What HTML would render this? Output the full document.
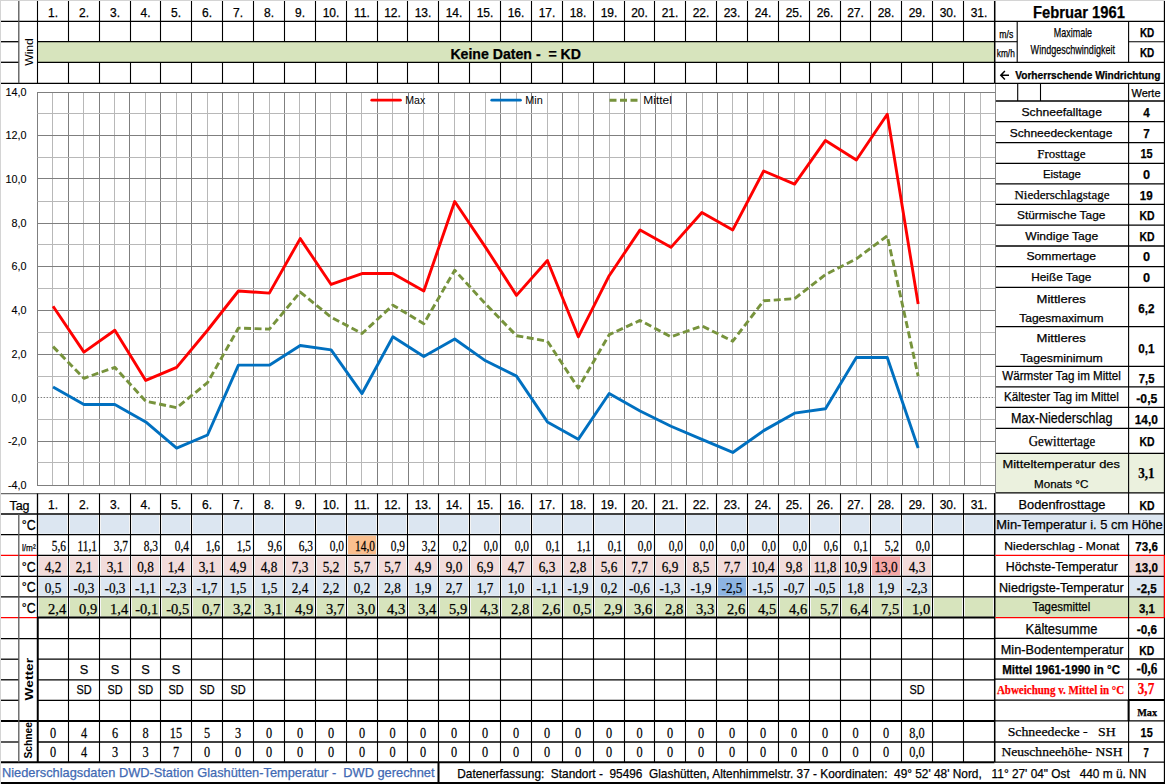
<!DOCTYPE html>
<html><head><meta charset="utf-8"><title>Februar 1961</title>
<style>
html,body{margin:0;padding:0;background:#fff;}
body{width:1165px;height:784px;overflow:hidden;font-family:"Liberation Sans", sans-serif;}
svg{display:block;}
</style></head><body>
<svg width="1165" height="784" viewBox="0 0 1165 784">
<rect x="0" y="0" width="1165" height="784" fill="#fff"/>
<rect x="0" y="0" width="1165" height="1" fill="#d4d4d4"/>
<rect x="0" y="0" width="1" height="784" fill="#d4d4d4"/>
<rect x="37.5" y="42" width="957.0" height="20" fill="#d7e4bd"/>
<rect x="39.0" y="515.0" width="28.0" height="18.700000000000045" fill="#dce6f1"/>
<rect x="39.0" y="597.8" width="28.0" height="18.800000000000068" fill="#d7e4bd"/>
<rect x="39.0" y="556.3" width="28.0" height="19.0" fill="#f2dcdb"/>
<rect x="39.0" y="577.3" width="28.0" height="18.5" fill="#dce6f1"/>
<rect x="70.0" y="515.0" width="28.0" height="18.700000000000045" fill="#dce6f1"/>
<rect x="70.0" y="597.8" width="28.0" height="18.800000000000068" fill="#d7e4bd"/>
<rect x="70.0" y="556.3" width="28.0" height="19.0" fill="#f2dcdb"/>
<rect x="70.0" y="577.3" width="28.0" height="18.5" fill="#dce6f1"/>
<rect x="101.0" y="515.0" width="28.0" height="18.700000000000045" fill="#dce6f1"/>
<rect x="101.0" y="597.8" width="28.0" height="18.800000000000068" fill="#d7e4bd"/>
<rect x="101.0" y="556.3" width="28.0" height="19.0" fill="#f2dcdb"/>
<rect x="101.0" y="577.3" width="28.0" height="18.5" fill="#dce6f1"/>
<rect x="132.0" y="515.0" width="27.0" height="18.700000000000045" fill="#dce6f1"/>
<rect x="132.0" y="597.8" width="27.0" height="18.800000000000068" fill="#d7e4bd"/>
<rect x="132.0" y="556.3" width="27.0" height="19.0" fill="#f2dcdb"/>
<rect x="132.0" y="577.3" width="27.0" height="18.5" fill="#dce6f1"/>
<rect x="162.0" y="515.0" width="28.0" height="18.700000000000045" fill="#dce6f1"/>
<rect x="162.0" y="597.8" width="28.0" height="18.800000000000068" fill="#d7e4bd"/>
<rect x="162.0" y="556.3" width="28.0" height="19.0" fill="#f2dcdb"/>
<rect x="162.0" y="577.3" width="28.0" height="18.5" fill="#dce6f1"/>
<rect x="193.0" y="515.0" width="28.0" height="18.700000000000045" fill="#dce6f1"/>
<rect x="193.0" y="597.8" width="28.0" height="18.800000000000068" fill="#d7e4bd"/>
<rect x="193.0" y="556.3" width="28.0" height="19.0" fill="#f2dcdb"/>
<rect x="193.0" y="577.3" width="28.0" height="18.5" fill="#dce6f1"/>
<rect x="224.0" y="515.0" width="28.0" height="18.700000000000045" fill="#dce6f1"/>
<rect x="224.0" y="597.8" width="28.0" height="18.800000000000068" fill="#d7e4bd"/>
<rect x="224.0" y="556.3" width="28.0" height="19.0" fill="#f2dcdb"/>
<rect x="224.0" y="577.3" width="28.0" height="18.5" fill="#dce6f1"/>
<rect x="255.0" y="515.0" width="28.0" height="18.700000000000045" fill="#dce6f1"/>
<rect x="255.0" y="597.8" width="28.0" height="18.800000000000068" fill="#d7e4bd"/>
<rect x="255.0" y="556.3" width="28.0" height="19.0" fill="#f2dcdb"/>
<rect x="255.0" y="577.3" width="28.0" height="18.5" fill="#dce6f1"/>
<rect x="286.0" y="515.0" width="28.0" height="18.700000000000045" fill="#dce6f1"/>
<rect x="286.0" y="597.8" width="28.0" height="18.800000000000068" fill="#d7e4bd"/>
<rect x="286.0" y="556.3" width="28.0" height="19.0" fill="#f2dcdb"/>
<rect x="286.0" y="577.3" width="28.0" height="18.5" fill="#dce6f1"/>
<rect x="317.0" y="515.0" width="28.0" height="18.700000000000045" fill="#dce6f1"/>
<rect x="317.0" y="597.8" width="28.0" height="18.800000000000068" fill="#d7e4bd"/>
<rect x="317.0" y="556.3" width="28.0" height="19.0" fill="#f2dcdb"/>
<rect x="317.0" y="577.3" width="28.0" height="18.5" fill="#dce6f1"/>
<rect x="348.0" y="515.0" width="28.0" height="18.700000000000045" fill="#dce6f1"/>
<rect x="348.0" y="597.8" width="28.0" height="18.800000000000068" fill="#d7e4bd"/>
<rect x="348.0" y="556.3" width="28.0" height="19.0" fill="#f2dcdb"/>
<rect x="348.0" y="577.3" width="28.0" height="18.5" fill="#dce6f1"/>
<rect x="348.0" y="535.7" width="28.0" height="18.59999999999991" fill="#fabf8f"/>
<rect x="379.0" y="515.0" width="27.0" height="18.700000000000045" fill="#dce6f1"/>
<rect x="379.0" y="597.8" width="27.0" height="18.800000000000068" fill="#d7e4bd"/>
<rect x="379.0" y="556.3" width="27.0" height="19.0" fill="#f2dcdb"/>
<rect x="379.0" y="577.3" width="27.0" height="18.5" fill="#dce6f1"/>
<rect x="409.0" y="515.0" width="28.0" height="18.700000000000045" fill="#dce6f1"/>
<rect x="409.0" y="597.8" width="28.0" height="18.800000000000068" fill="#d7e4bd"/>
<rect x="409.0" y="556.3" width="28.0" height="19.0" fill="#f2dcdb"/>
<rect x="409.0" y="577.3" width="28.0" height="18.5" fill="#dce6f1"/>
<rect x="440.0" y="515.0" width="28.0" height="18.700000000000045" fill="#dce6f1"/>
<rect x="440.0" y="597.8" width="28.0" height="18.800000000000068" fill="#d7e4bd"/>
<rect x="440.0" y="556.3" width="28.0" height="19.0" fill="#f2dcdb"/>
<rect x="440.0" y="577.3" width="28.0" height="18.5" fill="#dce6f1"/>
<rect x="471.0" y="515.0" width="28.0" height="18.700000000000045" fill="#dce6f1"/>
<rect x="471.0" y="597.8" width="28.0" height="18.800000000000068" fill="#d7e4bd"/>
<rect x="471.0" y="556.3" width="28.0" height="19.0" fill="#f2dcdb"/>
<rect x="471.0" y="577.3" width="28.0" height="18.5" fill="#dce6f1"/>
<rect x="502.0" y="515.0" width="28.0" height="18.700000000000045" fill="#dce6f1"/>
<rect x="502.0" y="597.8" width="28.0" height="18.800000000000068" fill="#d7e4bd"/>
<rect x="502.0" y="556.3" width="28.0" height="19.0" fill="#f2dcdb"/>
<rect x="502.0" y="577.3" width="28.0" height="18.5" fill="#dce6f1"/>
<rect x="533.0" y="515.0" width="28.0" height="18.700000000000045" fill="#dce6f1"/>
<rect x="533.0" y="597.8" width="28.0" height="18.800000000000068" fill="#d7e4bd"/>
<rect x="533.0" y="556.3" width="28.0" height="19.0" fill="#f2dcdb"/>
<rect x="533.0" y="577.3" width="28.0" height="18.5" fill="#dce6f1"/>
<rect x="564.0" y="515.0" width="28.0" height="18.700000000000045" fill="#dce6f1"/>
<rect x="564.0" y="597.8" width="28.0" height="18.800000000000068" fill="#d7e4bd"/>
<rect x="564.0" y="556.3" width="28.0" height="19.0" fill="#f2dcdb"/>
<rect x="564.0" y="577.3" width="28.0" height="18.5" fill="#dce6f1"/>
<rect x="595.0" y="515.0" width="28.0" height="18.700000000000045" fill="#dce6f1"/>
<rect x="595.0" y="597.8" width="28.0" height="18.800000000000068" fill="#d7e4bd"/>
<rect x="595.0" y="556.3" width="28.0" height="19.0" fill="#f2dcdb"/>
<rect x="595.0" y="577.3" width="28.0" height="18.5" fill="#dce6f1"/>
<rect x="626.0" y="515.0" width="27.0" height="18.700000000000045" fill="#dce6f1"/>
<rect x="626.0" y="597.8" width="27.0" height="18.800000000000068" fill="#d7e4bd"/>
<rect x="626.0" y="556.3" width="27.0" height="19.0" fill="#f2dcdb"/>
<rect x="626.0" y="577.3" width="27.0" height="18.5" fill="#dce6f1"/>
<rect x="656.0" y="515.0" width="28.0" height="18.700000000000045" fill="#dce6f1"/>
<rect x="656.0" y="597.8" width="28.0" height="18.800000000000068" fill="#d7e4bd"/>
<rect x="656.0" y="556.3" width="28.0" height="19.0" fill="#f2dcdb"/>
<rect x="656.0" y="577.3" width="28.0" height="18.5" fill="#dce6f1"/>
<rect x="687.0" y="515.0" width="28.0" height="18.700000000000045" fill="#dce6f1"/>
<rect x="687.0" y="597.8" width="28.0" height="18.800000000000068" fill="#d7e4bd"/>
<rect x="687.0" y="556.3" width="28.0" height="19.0" fill="#f2dcdb"/>
<rect x="687.0" y="577.3" width="28.0" height="18.5" fill="#dce6f1"/>
<rect x="718.0" y="515.0" width="28.0" height="18.700000000000045" fill="#dce6f1"/>
<rect x="718.0" y="597.8" width="28.0" height="18.800000000000068" fill="#d7e4bd"/>
<rect x="718.0" y="556.3" width="28.0" height="19.0" fill="#f2dcdb"/>
<rect x="718.0" y="577.3" width="28.0" height="18.5" fill="#8db4e2"/>
<rect x="749.0" y="515.0" width="28.0" height="18.700000000000045" fill="#dce6f1"/>
<rect x="749.0" y="597.8" width="28.0" height="18.800000000000068" fill="#d7e4bd"/>
<rect x="749.0" y="556.3" width="28.0" height="19.0" fill="#f2dcdb"/>
<rect x="749.0" y="577.3" width="28.0" height="18.5" fill="#dce6f1"/>
<rect x="780.0" y="515.0" width="28.0" height="18.700000000000045" fill="#dce6f1"/>
<rect x="780.0" y="597.8" width="28.0" height="18.800000000000068" fill="#d7e4bd"/>
<rect x="780.0" y="556.3" width="28.0" height="19.0" fill="#f2dcdb"/>
<rect x="780.0" y="577.3" width="28.0" height="18.5" fill="#dce6f1"/>
<rect x="811.0" y="515.0" width="28.0" height="18.700000000000045" fill="#dce6f1"/>
<rect x="811.0" y="597.8" width="28.0" height="18.800000000000068" fill="#d7e4bd"/>
<rect x="811.0" y="556.3" width="28.0" height="19.0" fill="#f2dcdb"/>
<rect x="811.0" y="577.3" width="28.0" height="18.5" fill="#dce6f1"/>
<rect x="842.0" y="515.0" width="27.0" height="18.700000000000045" fill="#dce6f1"/>
<rect x="842.0" y="597.8" width="27.0" height="18.800000000000068" fill="#d7e4bd"/>
<rect x="842.0" y="556.3" width="27.0" height="19.0" fill="#f2dcdb"/>
<rect x="842.0" y="577.3" width="27.0" height="18.5" fill="#dce6f1"/>
<rect x="872.0" y="515.0" width="28.0" height="18.700000000000045" fill="#dce6f1"/>
<rect x="872.0" y="597.8" width="28.0" height="18.800000000000068" fill="#d7e4bd"/>
<rect x="872.0" y="556.3" width="28.0" height="19.0" fill="#f4a7a7"/>
<rect x="872.0" y="577.3" width="28.0" height="18.5" fill="#dce6f1"/>
<rect x="903.0" y="515.0" width="28.0" height="18.700000000000045" fill="#dce6f1"/>
<rect x="903.0" y="597.8" width="28.0" height="18.800000000000068" fill="#d7e4bd"/>
<rect x="903.0" y="556.3" width="28.0" height="19.0" fill="#f2dcdb"/>
<rect x="903.0" y="577.3" width="28.0" height="18.5" fill="#dce6f1"/>
<rect x="934.0" y="515.0" width="28.0" height="18.700000000000045" fill="#dce6f1"/>
<rect x="934.0" y="597.8" width="28.0" height="18.800000000000068" fill="#d7e4bd"/>
<rect x="965.0" y="515.0" width="28.0" height="18.700000000000045" fill="#dce6f1"/>
<rect x="965.0" y="597.8" width="28.0" height="18.800000000000068" fill="#d7e4bd"/>
<rect x="995" y="454" width="133.5" height="38.89999999999998" fill="#ebf1de"/>
<rect x="1129" y="454" width="35" height="38.89999999999998" fill="#ebf1de"/>
<rect x="995" y="514.5" width="169" height="20.200000000000045" fill="#dce6f1"/>
<rect x="1129.5" y="556" width="34.0" height="20" fill="#f2dcdb"/>
<rect x="1129.5" y="577" width="34.0" height="19.3" fill="#dce6f1"/>
<rect x="995" y="597.5" width="169" height="19.6" fill="#d7e4bd"/>
<line x1="37.5" y1="92" x2="37.5" y2="486" stroke="#7f7f7f" stroke-width="1" />
<line x1="52.5" y1="92" x2="52.5" y2="486" stroke="#b8b8b8" stroke-width="1" />
<line x1="68.5" y1="92" x2="68.5" y2="486" stroke="#7f7f7f" stroke-width="1" />
<line x1="83.5" y1="92" x2="83.5" y2="486" stroke="#b8b8b8" stroke-width="1" />
<line x1="99.5" y1="92" x2="99.5" y2="486" stroke="#7f7f7f" stroke-width="1" />
<line x1="114.5" y1="92" x2="114.5" y2="486" stroke="#b8b8b8" stroke-width="1" />
<line x1="129.5" y1="92" x2="129.5" y2="486" stroke="#7f7f7f" stroke-width="1" />
<line x1="145.5" y1="92" x2="145.5" y2="486" stroke="#b8b8b8" stroke-width="1" />
<line x1="160.5" y1="92" x2="160.5" y2="486" stroke="#7f7f7f" stroke-width="1" />
<line x1="176.5" y1="92" x2="176.5" y2="486" stroke="#b8b8b8" stroke-width="1" />
<line x1="191.5" y1="92" x2="191.5" y2="486" stroke="#7f7f7f" stroke-width="1" />
<line x1="207.5" y1="92" x2="207.5" y2="486" stroke="#b8b8b8" stroke-width="1" />
<line x1="222.5" y1="92" x2="222.5" y2="486" stroke="#7f7f7f" stroke-width="1" />
<line x1="238.5" y1="92" x2="238.5" y2="486" stroke="#b8b8b8" stroke-width="1" />
<line x1="253.5" y1="92" x2="253.5" y2="486" stroke="#7f7f7f" stroke-width="1" />
<line x1="269.5" y1="92" x2="269.5" y2="486" stroke="#b8b8b8" stroke-width="1" />
<line x1="284.5" y1="92" x2="284.5" y2="486" stroke="#7f7f7f" stroke-width="1" />
<line x1="299.5" y1="92" x2="299.5" y2="486" stroke="#b8b8b8" stroke-width="1" />
<line x1="315.5" y1="92" x2="315.5" y2="486" stroke="#7f7f7f" stroke-width="1" />
<line x1="330.5" y1="92" x2="330.5" y2="486" stroke="#b8b8b8" stroke-width="1" />
<line x1="346.5" y1="92" x2="346.5" y2="486" stroke="#7f7f7f" stroke-width="1" />
<line x1="361.5" y1="92" x2="361.5" y2="486" stroke="#b8b8b8" stroke-width="1" />
<line x1="377.5" y1="92" x2="377.5" y2="486" stroke="#7f7f7f" stroke-width="1" />
<line x1="392.5" y1="92" x2="392.5" y2="486" stroke="#b8b8b8" stroke-width="1" />
<line x1="408.5" y1="92" x2="408.5" y2="486" stroke="#7f7f7f" stroke-width="1" />
<line x1="423.5" y1="92" x2="423.5" y2="486" stroke="#b8b8b8" stroke-width="1" />
<line x1="438.5" y1="92" x2="438.5" y2="486" stroke="#7f7f7f" stroke-width="1" />
<line x1="454.5" y1="92" x2="454.5" y2="486" stroke="#b8b8b8" stroke-width="1" />
<line x1="469.5" y1="92" x2="469.5" y2="486" stroke="#7f7f7f" stroke-width="1" />
<line x1="485.5" y1="92" x2="485.5" y2="486" stroke="#b8b8b8" stroke-width="1" />
<line x1="500.5" y1="92" x2="500.5" y2="486" stroke="#7f7f7f" stroke-width="1" />
<line x1="516.5" y1="92" x2="516.5" y2="486" stroke="#b8b8b8" stroke-width="1" />
<line x1="531.5" y1="92" x2="531.5" y2="486" stroke="#7f7f7f" stroke-width="1" />
<line x1="547.5" y1="92" x2="547.5" y2="486" stroke="#b8b8b8" stroke-width="1" />
<line x1="562.5" y1="92" x2="562.5" y2="486" stroke="#7f7f7f" stroke-width="1" />
<line x1="578.5" y1="92" x2="578.5" y2="486" stroke="#b8b8b8" stroke-width="1" />
<line x1="593.5" y1="92" x2="593.5" y2="486" stroke="#7f7f7f" stroke-width="1" />
<line x1="609.5" y1="92" x2="609.5" y2="486" stroke="#b8b8b8" stroke-width="1" />
<line x1="624.5" y1="92" x2="624.5" y2="486" stroke="#7f7f7f" stroke-width="1" />
<line x1="640.5" y1="92" x2="640.5" y2="486" stroke="#b8b8b8" stroke-width="1" />
<line x1="655.5" y1="92" x2="655.5" y2="486" stroke="#7f7f7f" stroke-width="1" />
<line x1="671.5" y1="92" x2="671.5" y2="486" stroke="#b8b8b8" stroke-width="1" />
<line x1="686.5" y1="92" x2="686.5" y2="486" stroke="#7f7f7f" stroke-width="1" />
<line x1="702.5" y1="92" x2="702.5" y2="486" stroke="#b8b8b8" stroke-width="1" />
<line x1="717.5" y1="92" x2="717.5" y2="486" stroke="#7f7f7f" stroke-width="1" />
<line x1="732.5" y1="92" x2="732.5" y2="486" stroke="#b8b8b8" stroke-width="1" />
<line x1="747.5" y1="92" x2="747.5" y2="486" stroke="#7f7f7f" stroke-width="1" />
<line x1="763.5" y1="92" x2="763.5" y2="486" stroke="#b8b8b8" stroke-width="1" />
<line x1="778.5" y1="92" x2="778.5" y2="486" stroke="#7f7f7f" stroke-width="1" />
<line x1="794.5" y1="92" x2="794.5" y2="486" stroke="#b8b8b8" stroke-width="1" />
<line x1="809.5" y1="92" x2="809.5" y2="486" stroke="#7f7f7f" stroke-width="1" />
<line x1="825.5" y1="92" x2="825.5" y2="486" stroke="#b8b8b8" stroke-width="1" />
<line x1="840.5" y1="92" x2="840.5" y2="486" stroke="#7f7f7f" stroke-width="1" />
<line x1="856.5" y1="92" x2="856.5" y2="486" stroke="#b8b8b8" stroke-width="1" />
<line x1="871.5" y1="92" x2="871.5" y2="486" stroke="#7f7f7f" stroke-width="1" />
<line x1="887.5" y1="92" x2="887.5" y2="486" stroke="#b8b8b8" stroke-width="1" />
<line x1="902.5" y1="92" x2="902.5" y2="486" stroke="#7f7f7f" stroke-width="1" />
<line x1="918.5" y1="92" x2="918.5" y2="486" stroke="#b8b8b8" stroke-width="1" />
<line x1="933.5" y1="92" x2="933.5" y2="486" stroke="#7f7f7f" stroke-width="1" />
<line x1="949.5" y1="92" x2="949.5" y2="486" stroke="#b8b8b8" stroke-width="1" />
<line x1="964.5" y1="92" x2="964.5" y2="486" stroke="#7f7f7f" stroke-width="1" />
<line x1="980.5" y1="92" x2="980.5" y2="486" stroke="#b8b8b8" stroke-width="1" />
<line x1="995.5" y1="92" x2="995.5" y2="486" stroke="#7f7f7f" stroke-width="1" />
<line x1="37.5" y1="485.5" x2="995.5" y2="485.5" stroke="#7f7f7f" stroke-width="1" />
<line x1="37.5" y1="462.5" x2="995.5" y2="462.5" stroke="#b8b8b8" stroke-width="1" />
<line x1="37.5" y1="441.5" x2="995.5" y2="441.5" stroke="#7f7f7f" stroke-width="1" />
<line x1="37.5" y1="419.5" x2="995.5" y2="419.5" stroke="#b8b8b8" stroke-width="1" />
<line x1="37.6" y1="397.5" x2="995.4" y2="397.5" stroke="#7f7f7f" stroke-width="1" stroke-dasharray="1.5,1.5"/>
<line x1="37.5" y1="376.5" x2="995.5" y2="376.5" stroke="#b8b8b8" stroke-width="1" />
<line x1="37.5" y1="354.5" x2="995.5" y2="354.5" stroke="#7f7f7f" stroke-width="1" />
<line x1="37.5" y1="332.5" x2="995.5" y2="332.5" stroke="#b8b8b8" stroke-width="1" />
<line x1="37.5" y1="310.5" x2="995.5" y2="310.5" stroke="#7f7f7f" stroke-width="1" />
<line x1="37.5" y1="288.5" x2="995.5" y2="288.5" stroke="#b8b8b8" stroke-width="1" />
<line x1="37.5" y1="266.5" x2="995.5" y2="266.5" stroke="#7f7f7f" stroke-width="1" />
<line x1="37.5" y1="244.5" x2="995.5" y2="244.5" stroke="#b8b8b8" stroke-width="1" />
<line x1="37.5" y1="223.5" x2="995.5" y2="223.5" stroke="#7f7f7f" stroke-width="1" />
<line x1="37.5" y1="201.5" x2="995.5" y2="201.5" stroke="#b8b8b8" stroke-width="1" />
<line x1="37.5" y1="178.5" x2="995.5" y2="178.5" stroke="#7f7f7f" stroke-width="1" />
<line x1="37.5" y1="157.5" x2="995.5" y2="157.5" stroke="#b8b8b8" stroke-width="1" />
<line x1="37.5" y1="135.5" x2="995.5" y2="135.5" stroke="#7f7f7f" stroke-width="1" />
<line x1="37.5" y1="113.5" x2="995.5" y2="113.5" stroke="#b8b8b8" stroke-width="1" />
<line x1="37.5" y1="92.5" x2="995.5" y2="92.5" stroke="#7f7f7f" stroke-width="1" />
<line x1="995.5" y1="84.2" x2="995.5" y2="493.5" stroke="#8a8a8a" stroke-width="1" />
<text xml:space="preserve" x="26.5" y="489.29999999999995" font-family='"Liberation Sans", sans-serif' font-size="10.8" text-anchor="end" fill="#000" stroke="#000" stroke-width="0.1" >-4,0</text>
<text xml:space="preserve" x="26.5" y="445.29999999999995" font-family='"Liberation Sans", sans-serif' font-size="10.8" text-anchor="end" fill="#000" stroke="#000" stroke-width="0.1" >-2,0</text>
<text xml:space="preserve" x="26.5" y="401.7" font-family='"Liberation Sans", sans-serif' font-size="10.8" text-anchor="end" fill="#000" stroke="#000" stroke-width="0.1" >0,0</text>
<text xml:space="preserve" x="26.5" y="358.4" font-family='"Liberation Sans", sans-serif' font-size="10.8" text-anchor="end" fill="#000" stroke="#000" stroke-width="0.1" >2,0</text>
<text xml:space="preserve" x="26.5" y="314.0" font-family='"Liberation Sans", sans-serif' font-size="10.8" text-anchor="end" fill="#000" stroke="#000" stroke-width="0.1" >4,0</text>
<text xml:space="preserve" x="26.5" y="270.2" font-family='"Liberation Sans", sans-serif' font-size="10.8" text-anchor="end" fill="#000" stroke="#000" stroke-width="0.1" >6,0</text>
<text xml:space="preserve" x="26.5" y="227.4" font-family='"Liberation Sans", sans-serif' font-size="10.8" text-anchor="end" fill="#000" stroke="#000" stroke-width="0.1" >8,0</text>
<text xml:space="preserve" x="26.5" y="182.9" font-family='"Liberation Sans", sans-serif' font-size="10.8" text-anchor="end" fill="#000" stroke="#000" stroke-width="0.1" >10,0</text>
<text xml:space="preserve" x="26.5" y="139.4" font-family='"Liberation Sans", sans-serif' font-size="10.8" text-anchor="end" fill="#000" stroke="#000" stroke-width="0.1" >12,0</text>
<text xml:space="preserve" x="26.5" y="96.2" font-family='"Liberation Sans", sans-serif' font-size="10.8" text-anchor="end" fill="#000" stroke="#000" stroke-width="0.1" >14,0</text>
<line x1="371.8" y1="100.2" x2="400.4" y2="100.2" stroke="#ff0000" stroke-width="2.8" stroke-linecap="round"/>
<text xml:space="preserve" x="405.3" y="104.3" font-family='"Liberation Sans", sans-serif' font-size="10" text-anchor="start" fill="#000" stroke="#000" stroke-width="0" textLength="20" lengthAdjust="spacingAndGlyphs" >Max</text>
<line x1="491.8" y1="100.2" x2="520.4" y2="100.2" stroke="#0070c0" stroke-width="2.8" stroke-linecap="round"/>
<text xml:space="preserve" x="525.3" y="104.3" font-family='"Liberation Sans", sans-serif' font-size="10" text-anchor="start" fill="#000" stroke="#000" stroke-width="0" textLength="17.5" lengthAdjust="spacingAndGlyphs" >Min</text>
<line x1="609.5" y1="100.2" x2="637.5" y2="100.2" stroke="#77933c" stroke-width="3" stroke-dasharray="7,3.5"/>
<text xml:space="preserve" x="643.3" y="104.3" font-family='"Liberation Sans", sans-serif' font-size="10" text-anchor="start" fill="#000" stroke="#000" stroke-width="0" textLength="28.5" lengthAdjust="spacingAndGlyphs" >Mittel</text>
<polyline points="53.05,346.62 83.95,378.26 114.84,367.35 145.74,401.17 176.64,407.72 207.53,382.63 238.43,328.08 269.33,329.17 300.22,292.07 331.12,317.17 362.02,333.53 392.91,305.16 423.81,323.71 454.71,270.25 485.60,304.07 516.50,335.71 547.40,341.17 578.29,388.08 609.19,334.62 640.09,320.44 670.98,336.80 701.88,325.89 732.78,341.17 763.67,300.80 794.57,298.62 825.47,274.62 856.36,258.80 887.26,235.89 918.16,376.08" fill="none" stroke="#77933c" stroke-width="2.9" stroke-linejoin="round" stroke-dasharray="7,3.5"/>
<polyline points="53.05,386.99 83.95,404.45 114.84,404.45 145.74,421.90 176.64,448.09 207.53,434.99 238.43,365.17 269.33,365.17 300.22,345.53 331.12,349.90 362.02,393.54 392.91,336.80 423.81,356.44 454.71,338.99 485.60,360.81 516.50,376.08 547.40,421.90 578.29,439.36 609.19,393.54 640.09,410.99 670.98,426.27 701.88,439.36 732.78,452.45 763.67,430.63 794.57,413.17 825.47,408.81 856.36,357.53 887.26,357.53 918.16,448.09" fill="none" stroke="#0070c0" stroke-width="2.9" stroke-linejoin="round" />
<polyline points="53.05,306.26 83.95,352.08 114.84,330.26 145.74,380.44 176.64,367.35 207.53,330.26 238.43,290.98 269.33,293.16 300.22,238.61 331.12,284.44 362.02,273.53 392.91,273.53 423.81,290.98 454.71,201.52 485.60,247.34 516.50,295.35 547.40,260.43 578.29,336.80 609.19,275.71 640.09,229.89 670.98,247.34 701.88,212.43 732.78,229.89 763.67,170.97 794.57,184.06 825.47,140.42 856.36,160.06 887.26,114.24 918.16,304.07" fill="none" stroke="#ff0000" stroke-width="2.9" stroke-linejoin="round" />
<line x1="1" y1="21.3" x2="994.5" y2="21.3" stroke="#000" stroke-width="1.3" />
<line x1="1" y1="41.7" x2="19" y2="41.7" stroke="#000" stroke-width="1.3" />
<line x1="37.5" y1="41.7" x2="994.5" y2="41.7" stroke="#000" stroke-width="1.3" />
<line x1="1" y1="62.3" x2="19" y2="62.3" stroke="#000" stroke-width="1.3" />
<line x1="37.5" y1="62.3" x2="994.5" y2="62.3" stroke="#000" stroke-width="1.3" />
<line x1="1" y1="83.3" x2="994.5" y2="83.3" stroke="#000" stroke-width="1.3" />
<line x1="18.8" y1="1" x2="18.8" y2="83.3" stroke="#555" stroke-width="1.3" />
<line x1="37.5" y1="1" x2="37.5" y2="42" stroke="#000" stroke-width="1.1" />
<line x1="37.5" y1="62" x2="37.5" y2="83.3" stroke="#000" stroke-width="1.1" />
<line x1="68.5" y1="1" x2="68.5" y2="42" stroke="#000" stroke-width="1.1" />
<line x1="68.5" y1="62" x2="68.5" y2="83.3" stroke="#000" stroke-width="1.1" />
<line x1="99.5" y1="1" x2="99.5" y2="42" stroke="#000" stroke-width="1.1" />
<line x1="99.5" y1="62" x2="99.5" y2="83.3" stroke="#000" stroke-width="1.1" />
<line x1="130.5" y1="1" x2="130.5" y2="42" stroke="#000" stroke-width="1.1" />
<line x1="130.5" y1="62" x2="130.5" y2="83.3" stroke="#000" stroke-width="1.1" />
<line x1="160.5" y1="1" x2="160.5" y2="42" stroke="#000" stroke-width="1.1" />
<line x1="160.5" y1="62" x2="160.5" y2="83.3" stroke="#000" stroke-width="1.1" />
<line x1="191.5" y1="1" x2="191.5" y2="42" stroke="#000" stroke-width="1.1" />
<line x1="191.5" y1="62" x2="191.5" y2="83.3" stroke="#000" stroke-width="1.1" />
<line x1="222.5" y1="1" x2="222.5" y2="42" stroke="#000" stroke-width="1.1" />
<line x1="222.5" y1="62" x2="222.5" y2="83.3" stroke="#000" stroke-width="1.1" />
<line x1="253.5" y1="1" x2="253.5" y2="42" stroke="#000" stroke-width="1.1" />
<line x1="253.5" y1="62" x2="253.5" y2="83.3" stroke="#000" stroke-width="1.1" />
<line x1="284.5" y1="1" x2="284.5" y2="42" stroke="#000" stroke-width="1.1" />
<line x1="284.5" y1="62" x2="284.5" y2="83.3" stroke="#000" stroke-width="1.1" />
<line x1="315.5" y1="1" x2="315.5" y2="42" stroke="#000" stroke-width="1.1" />
<line x1="315.5" y1="62" x2="315.5" y2="83.3" stroke="#000" stroke-width="1.1" />
<line x1="346.5" y1="1" x2="346.5" y2="42" stroke="#000" stroke-width="1.1" />
<line x1="346.5" y1="62" x2="346.5" y2="83.3" stroke="#000" stroke-width="1.1" />
<line x1="377.5" y1="1" x2="377.5" y2="42" stroke="#000" stroke-width="1.1" />
<line x1="377.5" y1="62" x2="377.5" y2="83.3" stroke="#000" stroke-width="1.1" />
<line x1="407.5" y1="1" x2="407.5" y2="42" stroke="#000" stroke-width="1.1" />
<line x1="407.5" y1="62" x2="407.5" y2="83.3" stroke="#000" stroke-width="1.1" />
<line x1="438.5" y1="1" x2="438.5" y2="42" stroke="#000" stroke-width="1.1" />
<line x1="438.5" y1="62" x2="438.5" y2="83.3" stroke="#000" stroke-width="1.1" />
<line x1="469.5" y1="1" x2="469.5" y2="42" stroke="#000" stroke-width="1.1" />
<line x1="469.5" y1="62" x2="469.5" y2="83.3" stroke="#000" stroke-width="1.1" />
<line x1="500.5" y1="1" x2="500.5" y2="42" stroke="#000" stroke-width="1.1" />
<line x1="500.5" y1="62" x2="500.5" y2="83.3" stroke="#000" stroke-width="1.1" />
<line x1="531.5" y1="1" x2="531.5" y2="42" stroke="#000" stroke-width="1.1" />
<line x1="531.5" y1="62" x2="531.5" y2="83.3" stroke="#000" stroke-width="1.1" />
<line x1="562.5" y1="1" x2="562.5" y2="42" stroke="#000" stroke-width="1.1" />
<line x1="562.5" y1="62" x2="562.5" y2="83.3" stroke="#000" stroke-width="1.1" />
<line x1="593.5" y1="1" x2="593.5" y2="42" stroke="#000" stroke-width="1.1" />
<line x1="593.5" y1="62" x2="593.5" y2="83.3" stroke="#000" stroke-width="1.1" />
<line x1="624.5" y1="1" x2="624.5" y2="42" stroke="#000" stroke-width="1.1" />
<line x1="624.5" y1="62" x2="624.5" y2="83.3" stroke="#000" stroke-width="1.1" />
<line x1="654.5" y1="1" x2="654.5" y2="42" stroke="#000" stroke-width="1.1" />
<line x1="654.5" y1="62" x2="654.5" y2="83.3" stroke="#000" stroke-width="1.1" />
<line x1="685.5" y1="1" x2="685.5" y2="42" stroke="#000" stroke-width="1.1" />
<line x1="685.5" y1="62" x2="685.5" y2="83.3" stroke="#000" stroke-width="1.1" />
<line x1="716.5" y1="1" x2="716.5" y2="42" stroke="#000" stroke-width="1.1" />
<line x1="716.5" y1="62" x2="716.5" y2="83.3" stroke="#000" stroke-width="1.1" />
<line x1="747.5" y1="1" x2="747.5" y2="42" stroke="#000" stroke-width="1.1" />
<line x1="747.5" y1="62" x2="747.5" y2="83.3" stroke="#000" stroke-width="1.1" />
<line x1="778.5" y1="1" x2="778.5" y2="42" stroke="#000" stroke-width="1.1" />
<line x1="778.5" y1="62" x2="778.5" y2="83.3" stroke="#000" stroke-width="1.1" />
<line x1="809.5" y1="1" x2="809.5" y2="42" stroke="#000" stroke-width="1.1" />
<line x1="809.5" y1="62" x2="809.5" y2="83.3" stroke="#000" stroke-width="1.1" />
<line x1="840.5" y1="1" x2="840.5" y2="42" stroke="#000" stroke-width="1.1" />
<line x1="840.5" y1="62" x2="840.5" y2="83.3" stroke="#000" stroke-width="1.1" />
<line x1="870.5" y1="1" x2="870.5" y2="42" stroke="#000" stroke-width="1.1" />
<line x1="870.5" y1="62" x2="870.5" y2="83.3" stroke="#000" stroke-width="1.1" />
<line x1="901.5" y1="1" x2="901.5" y2="42" stroke="#000" stroke-width="1.1" />
<line x1="901.5" y1="62" x2="901.5" y2="83.3" stroke="#000" stroke-width="1.1" />
<line x1="932.5" y1="1" x2="932.5" y2="42" stroke="#000" stroke-width="1.1" />
<line x1="932.5" y1="62" x2="932.5" y2="83.3" stroke="#000" stroke-width="1.1" />
<line x1="963.5" y1="1" x2="963.5" y2="42" stroke="#000" stroke-width="1.1" />
<line x1="963.5" y1="62" x2="963.5" y2="83.3" stroke="#000" stroke-width="1.1" />
<line x1="994.5" y1="1" x2="994.5" y2="42" stroke="#000" stroke-width="1.1" />
<line x1="994.5" y1="62" x2="994.5" y2="83.3" stroke="#000" stroke-width="1.1" />
<line x1="37.5" y1="42" x2="37.5" y2="62" stroke="#000" stroke-width="1.1" />
<line x1="994.5" y1="42" x2="994.5" y2="62" stroke="#000" stroke-width="1.1" />
<line x1="1" y1="493.6" x2="994.5" y2="493.6" stroke="#6a6a6a" stroke-width="1.3" />
<line x1="1" y1="514.0" x2="994.5" y2="514.0" stroke="#000" stroke-width="1.3" />
<line x1="1" y1="534.7" x2="994.5" y2="534.7" stroke="#000" stroke-width="1.3" />
<line x1="1" y1="555.3" x2="37" y2="555.3" stroke="#ff0000" stroke-width="1.3" />
<line x1="37.5" y1="555.3" x2="994.5" y2="555.3" stroke="#000" stroke-width="1.3" />
<line x1="1" y1="576.3" x2="994.5" y2="576.3" stroke="#000" stroke-width="1.3" />
<line x1="1" y1="596.8" x2="994.5" y2="596.8" stroke="#000" stroke-width="1.3" />
<line x1="1" y1="617.6" x2="37" y2="617.6" stroke="#ff0000" stroke-width="1.3" />
<line x1="37.5" y1="617.6" x2="994.5" y2="617.6" stroke="#000" stroke-width="2" />
<line x1="1" y1="638.6" x2="994.5" y2="638.6" stroke="#000" stroke-width="1.3" />
<line x1="1" y1="659.2" x2="19" y2="659.2" stroke="#000" stroke-width="1.3" />
<line x1="37.5" y1="659.2" x2="994.5" y2="659.2" stroke="#000" stroke-width="1.3" />
<line x1="1" y1="679.8" x2="19" y2="679.8" stroke="#000" stroke-width="1.3" />
<line x1="37.5" y1="679.8" x2="994.5" y2="679.8" stroke="#000" stroke-width="1.3" />
<line x1="1" y1="700.3" x2="19" y2="700.3" stroke="#000" stroke-width="1.3" />
<line x1="37.5" y1="700.3" x2="994.5" y2="700.3" stroke="#000" stroke-width="1.3" />
<line x1="1" y1="721.0" x2="994.5" y2="721.0" stroke="#000" stroke-width="2" />
<line x1="1" y1="742.0" x2="19" y2="742.0" stroke="#000" stroke-width="1.3" />
<line x1="37.5" y1="742.0" x2="994.5" y2="742.0" stroke="#000" stroke-width="1.3" />
<line x1="1" y1="762.2" x2="994.5" y2="762.2" stroke="#000" stroke-width="2" />
<line x1="18.8" y1="514" x2="18.8" y2="762.2" stroke="#5a5a5a" stroke-width="1.3" />
<line x1="37.5" y1="493.6" x2="37.5" y2="762.2" stroke="#000" stroke-width="1.3" />
<line x1="68.5" y1="493.6" x2="68.5" y2="762.2" stroke="#000" stroke-width="1.1" />
<line x1="99.5" y1="493.6" x2="99.5" y2="762.2" stroke="#000" stroke-width="1.1" />
<line x1="130.5" y1="493.6" x2="130.5" y2="762.2" stroke="#000" stroke-width="1.1" />
<line x1="160.5" y1="493.6" x2="160.5" y2="762.2" stroke="#000" stroke-width="1.1" />
<line x1="191.5" y1="493.6" x2="191.5" y2="762.2" stroke="#000" stroke-width="1.1" />
<line x1="222.5" y1="493.6" x2="222.5" y2="762.2" stroke="#000" stroke-width="1.1" />
<line x1="253.5" y1="493.6" x2="253.5" y2="762.2" stroke="#000" stroke-width="1.1" />
<line x1="284.5" y1="493.6" x2="284.5" y2="762.2" stroke="#000" stroke-width="1.1" />
<line x1="315.5" y1="493.6" x2="315.5" y2="762.2" stroke="#000" stroke-width="1.1" />
<line x1="346.5" y1="493.6" x2="346.5" y2="762.2" stroke="#000" stroke-width="1.1" />
<line x1="377.5" y1="493.6" x2="377.5" y2="762.2" stroke="#000" stroke-width="1.1" />
<line x1="407.5" y1="493.6" x2="407.5" y2="762.2" stroke="#000" stroke-width="1.1" />
<line x1="438.5" y1="493.6" x2="438.5" y2="762.2" stroke="#000" stroke-width="1.1" />
<line x1="469.5" y1="493.6" x2="469.5" y2="762.2" stroke="#000" stroke-width="1.1" />
<line x1="500.5" y1="493.6" x2="500.5" y2="762.2" stroke="#000" stroke-width="1.1" />
<line x1="531.5" y1="493.6" x2="531.5" y2="762.2" stroke="#000" stroke-width="1.1" />
<line x1="562.5" y1="493.6" x2="562.5" y2="762.2" stroke="#000" stroke-width="1.1" />
<line x1="593.5" y1="493.6" x2="593.5" y2="762.2" stroke="#000" stroke-width="1.1" />
<line x1="624.5" y1="493.6" x2="624.5" y2="762.2" stroke="#000" stroke-width="1.1" />
<line x1="654.5" y1="493.6" x2="654.5" y2="762.2" stroke="#000" stroke-width="1.1" />
<line x1="685.5" y1="493.6" x2="685.5" y2="762.2" stroke="#000" stroke-width="1.1" />
<line x1="716.5" y1="493.6" x2="716.5" y2="762.2" stroke="#000" stroke-width="1.1" />
<line x1="747.5" y1="493.6" x2="747.5" y2="762.2" stroke="#000" stroke-width="1.1" />
<line x1="778.5" y1="493.6" x2="778.5" y2="762.2" stroke="#000" stroke-width="1.1" />
<line x1="809.5" y1="493.6" x2="809.5" y2="762.2" stroke="#000" stroke-width="1.1" />
<line x1="840.5" y1="493.6" x2="840.5" y2="762.2" stroke="#000" stroke-width="1.1" />
<line x1="870.5" y1="493.6" x2="870.5" y2="762.2" stroke="#000" stroke-width="1.1" />
<line x1="901.5" y1="493.6" x2="901.5" y2="762.2" stroke="#000" stroke-width="1.1" />
<line x1="932.5" y1="493.6" x2="932.5" y2="762.2" stroke="#000" stroke-width="1.1" />
<line x1="963.5" y1="493.6" x2="963.5" y2="762.2" stroke="#000" stroke-width="1.1" />
<line x1="994.5" y1="493.6" x2="994.5" y2="762.2" stroke="#000" stroke-width="1.1" />
<line x1="37.8" y1="617.6" x2="37.8" y2="762.2" stroke="#000" stroke-width="1.8" />
<rect x="1" y="782" width="1164" height="2" fill="#000"/>
<line x1="438.5" y1="762.2" x2="438.5" y2="783" stroke="#000" stroke-width="2" />
<line x1="994.8" y1="1" x2="994.8" y2="83.3" stroke="#000" stroke-width="1.3" />
<line x1="994.8" y1="493.0" x2="994.8" y2="762.2" stroke="#000" stroke-width="1.3" />
<line x1="1164.5" y1="1" x2="1164.5" y2="783" stroke="#000" stroke-width="1.3" />
<line x1="994.8" y1="21.3" x2="1164.5" y2="21.3" stroke="#000" stroke-width="1.3" />
<line x1="1017.2" y1="21.3" x2="1017.2" y2="62.3" stroke="#000" stroke-width="1.1" />
<line x1="1128.6" y1="21.3" x2="1128.6" y2="62.3" stroke="#000" stroke-width="1.1" />
<line x1="994.8" y1="41.7" x2="1017.2" y2="41.7" stroke="#000" stroke-width="1.1" />
<line x1="1128.6" y1="41.7" x2="1164.5" y2="41.7" stroke="#000" stroke-width="1.1" />
<line x1="994.8" y1="62.3" x2="1164.5" y2="62.3" stroke="#000" stroke-width="1.3" />
<line x1="994.8" y1="83.3" x2="1164.5" y2="83.3" stroke="#000" stroke-width="1.3" />
<line x1="1017.7" y1="83.3" x2="1017.7" y2="101" stroke="#000" stroke-width="1.1" />
<line x1="1040.5" y1="83.3" x2="1040.5" y2="101" stroke="#000" stroke-width="1.1" />
<line x1="995.9" y1="101.0" x2="1164.5" y2="101.0" stroke="#000" stroke-width="1.3" />
<line x1="995.9" y1="121.6" x2="1164.5" y2="121.6" stroke="#000" stroke-width="1.3" />
<line x1="995.9" y1="142.6" x2="1164.5" y2="142.6" stroke="#000" stroke-width="1.3" />
<line x1="995.9" y1="163.4" x2="1164.5" y2="163.4" stroke="#000" stroke-width="1.3" />
<line x1="995.9" y1="183.8" x2="1164.5" y2="183.8" stroke="#000" stroke-width="1.3" />
<line x1="995.9" y1="204.4" x2="1164.5" y2="204.4" stroke="#000" stroke-width="1.3" />
<line x1="995.9" y1="225.2" x2="1164.5" y2="225.2" stroke="#000" stroke-width="1.3" />
<line x1="995.9" y1="246.0" x2="1164.5" y2="246.0" stroke="#000" stroke-width="1.3" />
<line x1="995.9" y1="266.7" x2="1164.5" y2="266.7" stroke="#000" stroke-width="1.3" />
<line x1="995.9" y1="287.3" x2="1164.5" y2="287.3" stroke="#000" stroke-width="1.3" />
<line x1="995.9" y1="326.7" x2="1164.5" y2="326.7" stroke="#000" stroke-width="1.3" />
<line x1="995.9" y1="366.4" x2="1164.5" y2="366.4" stroke="#000" stroke-width="1.3" />
<line x1="995.9" y1="386.8" x2="1164.5" y2="386.8" stroke="#000" stroke-width="1.3" />
<line x1="995.9" y1="407.4" x2="1164.5" y2="407.4" stroke="#000" stroke-width="1.3" />
<line x1="995.9" y1="428.3" x2="1164.5" y2="428.3" stroke="#000" stroke-width="1.3" />
<line x1="995.9" y1="453.3" x2="1164.5" y2="453.3" stroke="#000" stroke-width="1.3" />
<line x1="995.9" y1="492.9" x2="1164.5" y2="492.9" stroke="#000" stroke-width="1.3" />
<line x1="994.8" y1="513.9" x2="1164.5" y2="513.9" stroke="#000" stroke-width="1.3" />
<line x1="994.8" y1="534.7" x2="1164.5" y2="534.7" stroke="#000" stroke-width="1.3" />
<line x1="995.4" y1="555.3" x2="1164.5" y2="555.3" stroke="#ff0000" stroke-width="1.3" />
<line x1="994.8" y1="576.3" x2="1164.5" y2="576.3" stroke="#000" stroke-width="1.3" />
<line x1="994.8" y1="596.8" x2="1164.5" y2="596.8" stroke="#000" stroke-width="1.3" />
<line x1="995.4" y1="617.6" x2="1164.5" y2="617.6" stroke="#ff0000" stroke-width="1.3" />
<line x1="994.8" y1="638.4" x2="1164.5" y2="638.4" stroke="#000" stroke-width="1.3" />
<line x1="994.8" y1="659.0" x2="1164.5" y2="659.0" stroke="#000" stroke-width="1.3" />
<line x1="994.8" y1="679.2" x2="1164.5" y2="679.2" stroke="#000" stroke-width="1.3" />
<line x1="994.8" y1="700.1" x2="1164.5" y2="700.1" stroke="#000" stroke-width="1.3" />
<line x1="994.8" y1="720.8" x2="1164.5" y2="720.8" stroke="#000" stroke-width="1.3" />
<line x1="994.8" y1="742.0" x2="1164.5" y2="742.0" stroke="#000" stroke-width="1.3" />
<line x1="994.8" y1="762.2" x2="1164.5" y2="762.2" stroke="#000" stroke-width="1.3" />
<line x1="1128.6" y1="83.3" x2="1128.6" y2="513.9" stroke="#000" stroke-width="1.1" />
<line x1="1128.6" y1="534.7" x2="1128.6" y2="762.2" stroke="#000" stroke-width="1.1" />
<line x1="1164.5" y1="555.3" x2="1164.5" y2="617.6" stroke="#ff0000" stroke-width="1.3" />
<line x1="1128.6" y1="700.1" x2="1128.6" y2="720.8" stroke="#000" stroke-width="2" />
<line x1="1128.6" y1="700.1" x2="1164.5" y2="700.1" stroke="#000" stroke-width="2" />
<text xml:space="preserve" x="53.0" y="16.6" font-family='"Liberation Sans", sans-serif' font-size="12" text-anchor="middle" fill="#000" stroke="#000" stroke-width="0.25" >1.</text>
<text xml:space="preserve" x="53.0" y="509.2" font-family='"Liberation Sans", sans-serif' font-size="12" text-anchor="middle" fill="#000" stroke="#000" stroke-width="0.25" >1.</text>
<text xml:space="preserve" x="84.0" y="16.6" font-family='"Liberation Sans", sans-serif' font-size="12" text-anchor="middle" fill="#000" stroke="#000" stroke-width="0.25" >2.</text>
<text xml:space="preserve" x="84.0" y="509.2" font-family='"Liberation Sans", sans-serif' font-size="12" text-anchor="middle" fill="#000" stroke="#000" stroke-width="0.25" >2.</text>
<text xml:space="preserve" x="115.0" y="16.6" font-family='"Liberation Sans", sans-serif' font-size="12" text-anchor="middle" fill="#000" stroke="#000" stroke-width="0.25" >3.</text>
<text xml:space="preserve" x="115.0" y="509.2" font-family='"Liberation Sans", sans-serif' font-size="12" text-anchor="middle" fill="#000" stroke="#000" stroke-width="0.25" >3.</text>
<text xml:space="preserve" x="145.5" y="16.6" font-family='"Liberation Sans", sans-serif' font-size="12" text-anchor="middle" fill="#000" stroke="#000" stroke-width="0.25" >4.</text>
<text xml:space="preserve" x="145.5" y="509.2" font-family='"Liberation Sans", sans-serif' font-size="12" text-anchor="middle" fill="#000" stroke="#000" stroke-width="0.25" >4.</text>
<text xml:space="preserve" x="176.0" y="16.6" font-family='"Liberation Sans", sans-serif' font-size="12" text-anchor="middle" fill="#000" stroke="#000" stroke-width="0.25" >5.</text>
<text xml:space="preserve" x="176.0" y="509.2" font-family='"Liberation Sans", sans-serif' font-size="12" text-anchor="middle" fill="#000" stroke="#000" stroke-width="0.25" >5.</text>
<text xml:space="preserve" x="207.0" y="16.6" font-family='"Liberation Sans", sans-serif' font-size="12" text-anchor="middle" fill="#000" stroke="#000" stroke-width="0.25" >6.</text>
<text xml:space="preserve" x="207.0" y="509.2" font-family='"Liberation Sans", sans-serif' font-size="12" text-anchor="middle" fill="#000" stroke="#000" stroke-width="0.25" >6.</text>
<text xml:space="preserve" x="238.0" y="16.6" font-family='"Liberation Sans", sans-serif' font-size="12" text-anchor="middle" fill="#000" stroke="#000" stroke-width="0.25" >7.</text>
<text xml:space="preserve" x="238.0" y="509.2" font-family='"Liberation Sans", sans-serif' font-size="12" text-anchor="middle" fill="#000" stroke="#000" stroke-width="0.25" >7.</text>
<text xml:space="preserve" x="269.0" y="16.6" font-family='"Liberation Sans", sans-serif' font-size="12" text-anchor="middle" fill="#000" stroke="#000" stroke-width="0.25" >8.</text>
<text xml:space="preserve" x="269.0" y="509.2" font-family='"Liberation Sans", sans-serif' font-size="12" text-anchor="middle" fill="#000" stroke="#000" stroke-width="0.25" >8.</text>
<text xml:space="preserve" x="300.0" y="16.6" font-family='"Liberation Sans", sans-serif' font-size="12" text-anchor="middle" fill="#000" stroke="#000" stroke-width="0.25" >9.</text>
<text xml:space="preserve" x="300.0" y="509.2" font-family='"Liberation Sans", sans-serif' font-size="12" text-anchor="middle" fill="#000" stroke="#000" stroke-width="0.25" >9.</text>
<text xml:space="preserve" x="331.0" y="16.6" font-family='"Liberation Sans", sans-serif' font-size="12" text-anchor="middle" fill="#000" stroke="#000" stroke-width="0.25" >10.</text>
<text xml:space="preserve" x="331.0" y="509.2" font-family='"Liberation Sans", sans-serif' font-size="12" text-anchor="middle" fill="#000" stroke="#000" stroke-width="0.25" >10.</text>
<text xml:space="preserve" x="362.0" y="16.6" font-family='"Liberation Sans", sans-serif' font-size="12" text-anchor="middle" fill="#000" stroke="#000" stroke-width="0.25" >11.</text>
<text xml:space="preserve" x="362.0" y="509.2" font-family='"Liberation Sans", sans-serif' font-size="12" text-anchor="middle" fill="#000" stroke="#000" stroke-width="0.25" >11.</text>
<text xml:space="preserve" x="392.5" y="16.6" font-family='"Liberation Sans", sans-serif' font-size="12" text-anchor="middle" fill="#000" stroke="#000" stroke-width="0.25" >12.</text>
<text xml:space="preserve" x="392.5" y="509.2" font-family='"Liberation Sans", sans-serif' font-size="12" text-anchor="middle" fill="#000" stroke="#000" stroke-width="0.25" >12.</text>
<text xml:space="preserve" x="423.0" y="16.6" font-family='"Liberation Sans", sans-serif' font-size="12" text-anchor="middle" fill="#000" stroke="#000" stroke-width="0.25" >13.</text>
<text xml:space="preserve" x="423.0" y="509.2" font-family='"Liberation Sans", sans-serif' font-size="12" text-anchor="middle" fill="#000" stroke="#000" stroke-width="0.25" >13.</text>
<text xml:space="preserve" x="454.0" y="16.6" font-family='"Liberation Sans", sans-serif' font-size="12" text-anchor="middle" fill="#000" stroke="#000" stroke-width="0.25" >14.</text>
<text xml:space="preserve" x="454.0" y="509.2" font-family='"Liberation Sans", sans-serif' font-size="12" text-anchor="middle" fill="#000" stroke="#000" stroke-width="0.25" >14.</text>
<text xml:space="preserve" x="485.0" y="16.6" font-family='"Liberation Sans", sans-serif' font-size="12" text-anchor="middle" fill="#000" stroke="#000" stroke-width="0.25" >15.</text>
<text xml:space="preserve" x="485.0" y="509.2" font-family='"Liberation Sans", sans-serif' font-size="12" text-anchor="middle" fill="#000" stroke="#000" stroke-width="0.25" >15.</text>
<text xml:space="preserve" x="516.0" y="16.6" font-family='"Liberation Sans", sans-serif' font-size="12" text-anchor="middle" fill="#000" stroke="#000" stroke-width="0.25" >16.</text>
<text xml:space="preserve" x="516.0" y="509.2" font-family='"Liberation Sans", sans-serif' font-size="12" text-anchor="middle" fill="#000" stroke="#000" stroke-width="0.25" >16.</text>
<text xml:space="preserve" x="547.0" y="16.6" font-family='"Liberation Sans", sans-serif' font-size="12" text-anchor="middle" fill="#000" stroke="#000" stroke-width="0.25" >17.</text>
<text xml:space="preserve" x="547.0" y="509.2" font-family='"Liberation Sans", sans-serif' font-size="12" text-anchor="middle" fill="#000" stroke="#000" stroke-width="0.25" >17.</text>
<text xml:space="preserve" x="578.0" y="16.6" font-family='"Liberation Sans", sans-serif' font-size="12" text-anchor="middle" fill="#000" stroke="#000" stroke-width="0.25" >18.</text>
<text xml:space="preserve" x="578.0" y="509.2" font-family='"Liberation Sans", sans-serif' font-size="12" text-anchor="middle" fill="#000" stroke="#000" stroke-width="0.25" >18.</text>
<text xml:space="preserve" x="609.0" y="16.6" font-family='"Liberation Sans", sans-serif' font-size="12" text-anchor="middle" fill="#000" stroke="#000" stroke-width="0.25" >19.</text>
<text xml:space="preserve" x="609.0" y="509.2" font-family='"Liberation Sans", sans-serif' font-size="12" text-anchor="middle" fill="#000" stroke="#000" stroke-width="0.25" >19.</text>
<text xml:space="preserve" x="639.5" y="16.6" font-family='"Liberation Sans", sans-serif' font-size="12" text-anchor="middle" fill="#000" stroke="#000" stroke-width="0.25" >20.</text>
<text xml:space="preserve" x="639.5" y="509.2" font-family='"Liberation Sans", sans-serif' font-size="12" text-anchor="middle" fill="#000" stroke="#000" stroke-width="0.25" >20.</text>
<text xml:space="preserve" x="670.0" y="16.6" font-family='"Liberation Sans", sans-serif' font-size="12" text-anchor="middle" fill="#000" stroke="#000" stroke-width="0.25" >21.</text>
<text xml:space="preserve" x="670.0" y="509.2" font-family='"Liberation Sans", sans-serif' font-size="12" text-anchor="middle" fill="#000" stroke="#000" stroke-width="0.25" >21.</text>
<text xml:space="preserve" x="701.0" y="16.6" font-family='"Liberation Sans", sans-serif' font-size="12" text-anchor="middle" fill="#000" stroke="#000" stroke-width="0.25" >22.</text>
<text xml:space="preserve" x="701.0" y="509.2" font-family='"Liberation Sans", sans-serif' font-size="12" text-anchor="middle" fill="#000" stroke="#000" stroke-width="0.25" >22.</text>
<text xml:space="preserve" x="732.0" y="16.6" font-family='"Liberation Sans", sans-serif' font-size="12" text-anchor="middle" fill="#000" stroke="#000" stroke-width="0.25" >23.</text>
<text xml:space="preserve" x="732.0" y="509.2" font-family='"Liberation Sans", sans-serif' font-size="12" text-anchor="middle" fill="#000" stroke="#000" stroke-width="0.25" >23.</text>
<text xml:space="preserve" x="763.0" y="16.6" font-family='"Liberation Sans", sans-serif' font-size="12" text-anchor="middle" fill="#000" stroke="#000" stroke-width="0.25" >24.</text>
<text xml:space="preserve" x="763.0" y="509.2" font-family='"Liberation Sans", sans-serif' font-size="12" text-anchor="middle" fill="#000" stroke="#000" stroke-width="0.25" >24.</text>
<text xml:space="preserve" x="794.0" y="16.6" font-family='"Liberation Sans", sans-serif' font-size="12" text-anchor="middle" fill="#000" stroke="#000" stroke-width="0.25" >25.</text>
<text xml:space="preserve" x="794.0" y="509.2" font-family='"Liberation Sans", sans-serif' font-size="12" text-anchor="middle" fill="#000" stroke="#000" stroke-width="0.25" >25.</text>
<text xml:space="preserve" x="825.0" y="16.6" font-family='"Liberation Sans", sans-serif' font-size="12" text-anchor="middle" fill="#000" stroke="#000" stroke-width="0.25" >26.</text>
<text xml:space="preserve" x="825.0" y="509.2" font-family='"Liberation Sans", sans-serif' font-size="12" text-anchor="middle" fill="#000" stroke="#000" stroke-width="0.25" >26.</text>
<text xml:space="preserve" x="855.5" y="16.6" font-family='"Liberation Sans", sans-serif' font-size="12" text-anchor="middle" fill="#000" stroke="#000" stroke-width="0.25" >27.</text>
<text xml:space="preserve" x="855.5" y="509.2" font-family='"Liberation Sans", sans-serif' font-size="12" text-anchor="middle" fill="#000" stroke="#000" stroke-width="0.25" >27.</text>
<text xml:space="preserve" x="886.0" y="16.6" font-family='"Liberation Sans", sans-serif' font-size="12" text-anchor="middle" fill="#000" stroke="#000" stroke-width="0.25" >28.</text>
<text xml:space="preserve" x="886.0" y="509.2" font-family='"Liberation Sans", sans-serif' font-size="12" text-anchor="middle" fill="#000" stroke="#000" stroke-width="0.25" >28.</text>
<text xml:space="preserve" x="917.0" y="16.6" font-family='"Liberation Sans", sans-serif' font-size="12" text-anchor="middle" fill="#000" stroke="#000" stroke-width="0.25" >29.</text>
<text xml:space="preserve" x="917.0" y="509.2" font-family='"Liberation Sans", sans-serif' font-size="12" text-anchor="middle" fill="#000" stroke="#000" stroke-width="0.25" >29.</text>
<text xml:space="preserve" x="948.0" y="16.6" font-family='"Liberation Sans", sans-serif' font-size="12" text-anchor="middle" fill="#000" stroke="#000" stroke-width="0.25" >30.</text>
<text xml:space="preserve" x="948.0" y="509.2" font-family='"Liberation Sans", sans-serif' font-size="12" text-anchor="middle" fill="#000" stroke="#000" stroke-width="0.25" >30.</text>
<text xml:space="preserve" x="979.0" y="16.6" font-family='"Liberation Sans", sans-serif' font-size="12" text-anchor="middle" fill="#000" stroke="#000" stroke-width="0.25" >31.</text>
<text xml:space="preserve" x="979.0" y="509.2" font-family='"Liberation Sans", sans-serif' font-size="12" text-anchor="middle" fill="#000" stroke="#000" stroke-width="0.25" >31.</text>
<text xml:space="preserve" x="1079" y="17.9" font-family='"Liberation Sans", sans-serif' font-size="16.3" text-anchor="middle" fill="#000" stroke="#000" stroke-width="0.25" font-weight="bold" textLength="92" lengthAdjust="spacingAndGlyphs" >Februar 1961</text>
<text x="0" y="0" font-family='"Liberation Sans", sans-serif' font-size="11" text-anchor="middle" transform="translate(33.0,52) rotate(-90)" textLength="27.7" lengthAdjust="spacingAndGlyphs">Wind</text>
<text xml:space="preserve" x="515.7" y="58.7" font-family='"Liberation Sans", sans-serif' font-size="14.2" text-anchor="middle" fill="#000" stroke="#000" stroke-width="0.25" font-weight="bold" textLength="130.6" lengthAdjust="spacingAndGlyphs" >Keine Daten -  = KD</text>
<text xml:space="preserve" x="999.3" y="37.5" font-family='"Liberation Sans", sans-serif' font-size="10" text-anchor="start" fill="#000" stroke="#000" stroke-width="0.25" textLength="14.0" lengthAdjust="spacingAndGlyphs" >m/s</text>
<text xml:space="preserve" x="996.8" y="56.5" font-family='"Liberation Sans", sans-serif' font-size="10" text-anchor="start" fill="#000" stroke="#000" stroke-width="0.25" textLength="18.0" lengthAdjust="spacingAndGlyphs" >km/h</text>
<text xml:space="preserve" x="1053.8" y="37.4" font-family='"Liberation Sans", sans-serif' font-size="12.8" text-anchor="start" fill="#000" stroke="#000" stroke-width="0.25" textLength="38.3" lengthAdjust="spacingAndGlyphs" >Maximale</text>
<text xml:space="preserve" x="1030.6" y="54.0" font-family='"Liberation Sans", sans-serif' font-size="12.8" text-anchor="start" fill="#000" stroke="#000" stroke-width="0.25" textLength="84.4" lengthAdjust="spacingAndGlyphs" >Windgeschwindigkeit</text>
<text xml:space="preserve" x="1139.9" y="36.6" font-family='"Liberation Sans", sans-serif' font-size="13.2" text-anchor="start" fill="#000" stroke="#000" stroke-width="0.25" font-weight="bold" textLength="14.4" lengthAdjust="spacingAndGlyphs" >KD</text>
<text xml:space="preserve" x="1139.9" y="56.9" font-family='"Liberation Sans", sans-serif' font-size="13.2" text-anchor="start" fill="#000" stroke="#000" stroke-width="0.25" font-weight="bold" textLength="14.4" lengthAdjust="spacingAndGlyphs" >KD</text>
<path d="M1009,75.3 H1000.8 M1004.9,71.1 L1000.8,75.3 L1004.9,79.5" fill="none" stroke="#000" stroke-width="1.5"/>
<text xml:space="preserve" x="1015.2" y="78.6" font-family='"Liberation Sans", sans-serif' font-size="10.8" text-anchor="start" fill="#000" stroke="#000" stroke-width="0.25" font-weight="bold" textLength="145.3" lengthAdjust="spacingAndGlyphs" >Vorherrschende Windrichtung</text>
<text xml:space="preserve" x="1131.5" y="96.5" font-family='"Liberation Sans", sans-serif' font-size="10.5" text-anchor="start" fill="#000" stroke="#000" stroke-width="0.25" textLength="29.0" lengthAdjust="spacingAndGlyphs" >Werte</text>
<text xml:space="preserve" x="1021.5" y="116.0" font-family='"Liberation Sans", sans-serif' font-size="11.6" text-anchor="start" fill="#000" stroke="#000" stroke-width="0.25" textLength="80.4" lengthAdjust="spacingAndGlyphs" >Schneefalltage</text>
<text xml:space="preserve" x="1009.8" y="136.8" font-family='"Liberation Sans", sans-serif' font-size="11.6" text-anchor="start" fill="#000" stroke="#000" stroke-width="0.25" textLength="102.6" lengthAdjust="spacingAndGlyphs" >Schneedeckentage</text>
<text xml:space="preserve" x="1037.3" y="157.5" font-family='"Liberation Serif", serif' font-size="13.5" text-anchor="start" fill="#000" stroke="#000" stroke-width="0.25" textLength="48.1" lengthAdjust="spacingAndGlyphs" >Frosttage</text>
<text xml:space="preserve" x="1042.9" y="177.9" font-family='"Liberation Sans", sans-serif' font-size="11.6" text-anchor="start" fill="#000" stroke="#000" stroke-width="0.25" textLength="38.0" lengthAdjust="spacingAndGlyphs" >Eistage</text>
<text xml:space="preserve" x="1014.5" y="199.0" font-family='"Liberation Serif", serif' font-size="13.5" text-anchor="start" fill="#000" stroke="#000" stroke-width="0.25" textLength="94.9" lengthAdjust="spacingAndGlyphs" >Niederschlagstage</text>
<text xml:space="preserve" x="1017.0" y="219.4" font-family='"Liberation Sans", sans-serif' font-size="11.6" text-anchor="start" fill="#000" stroke="#000" stroke-width="0.25" textLength="88.4" lengthAdjust="spacingAndGlyphs" >Stürmische Tage</text>
<text xml:space="preserve" x="1025.3" y="240.1" font-family='"Liberation Sans", sans-serif' font-size="11.6" text-anchor="start" fill="#000" stroke="#000" stroke-width="0.25" textLength="72.9" lengthAdjust="spacingAndGlyphs" >Windige Tage</text>
<text xml:space="preserve" x="1026.5" y="260.4" font-family='"Liberation Sans", sans-serif' font-size="11.6" text-anchor="start" fill="#000" stroke="#000" stroke-width="0.25" textLength="69.4" lengthAdjust="spacingAndGlyphs" >Sommertage</text>
<text xml:space="preserve" x="1031.3" y="281.4" font-family='"Liberation Sans", sans-serif' font-size="11.6" text-anchor="start" fill="#000" stroke="#000" stroke-width="0.25" textLength="60.1" lengthAdjust="spacingAndGlyphs" >Heiße Tage</text>
<text xml:space="preserve" x="1036.5" y="302.8" font-family='"Liberation Sans", sans-serif' font-size="11.6" text-anchor="start" fill="#000" stroke="#000" stroke-width="0.25" textLength="49.4" lengthAdjust="spacingAndGlyphs" >Mittleres</text>
<text xml:space="preserve" x="1019.2" y="322.4" font-family='"Liberation Sans", sans-serif' font-size="11.6" text-anchor="start" fill="#000" stroke="#000" stroke-width="0.25" textLength="84.4" lengthAdjust="spacingAndGlyphs" >Tagesmaximum</text>
<text xml:space="preserve" x="1036.5" y="342.2" font-family='"Liberation Sans", sans-serif' font-size="11.6" text-anchor="start" fill="#000" stroke="#000" stroke-width="0.25" textLength="49.4" lengthAdjust="spacingAndGlyphs" >Mittleres</text>
<text xml:space="preserve" x="1020.2" y="361.6" font-family='"Liberation Sans", sans-serif' font-size="11.6" text-anchor="start" fill="#000" stroke="#000" stroke-width="0.25" textLength="82.6" lengthAdjust="spacingAndGlyphs" >Tagesminimum</text>
<text xml:space="preserve" x="1002.2" y="380.3" font-family='"Liberation Sans", sans-serif' font-size="12" text-anchor="start" fill="#000" stroke="#000" stroke-width="0.25" textLength="118.7" lengthAdjust="spacingAndGlyphs" >Wärmster Tag im Mittel</text>
<text xml:space="preserve" x="1003.9" y="401.4" font-family='"Liberation Sans", sans-serif' font-size="12" text-anchor="start" fill="#000" stroke="#000" stroke-width="0.25" textLength="115.0" lengthAdjust="spacingAndGlyphs" >Kältester Tag im Mittel</text>
<text xml:space="preserve" x="1011.0" y="422.8" font-family='"Liberation Sans", sans-serif' font-size="14" text-anchor="start" fill="#000" stroke="#000" stroke-width="0.25" textLength="101.4" lengthAdjust="spacingAndGlyphs" >Max-Niederschlag</text>
<text xml:space="preserve" x="1028.8" y="445.6" font-family='"Liberation Serif", serif' font-size="13.8" text-anchor="start" fill="#000" stroke="#000" stroke-width="0.25" textLength="66.4" lengthAdjust="spacingAndGlyphs" >Gewittertage</text>
<text xml:space="preserve" x="1002.5" y="468.3" font-family='"Liberation Sans", sans-serif' font-size="11.6" text-anchor="start" fill="#000" stroke="#000" stroke-width="0.25" textLength="117.5" lengthAdjust="spacingAndGlyphs" >Mitteltemperatur des</text>
<text xml:space="preserve" x="1034.0" y="487.8" font-family='"Liberation Sans", sans-serif' font-size="11.6" text-anchor="start" fill="#000" stroke="#000" stroke-width="0.25" textLength="54.4" lengthAdjust="spacingAndGlyphs" >Monats °C</text>
<text xml:space="preserve" x="1018.5" y="509.1" font-family='"Liberation Sans", sans-serif' font-size="12.4" text-anchor="start" fill="#000" stroke="#000" stroke-width="0.25" textLength="86.9" lengthAdjust="spacingAndGlyphs" >Bodenfrosttage</text>
<text xml:space="preserve" x="996.3" y="529.4" font-family='"Liberation Sans", sans-serif' font-size="12.4" text-anchor="start" fill="#000" stroke="#000" stroke-width="0.25" textLength="166.4" lengthAdjust="spacingAndGlyphs" >Min-Temperatur i. 5 cm Höhe</text>
<text xml:space="preserve" x="1004.3" y="550.0" font-family='"Liberation Sans", sans-serif' font-size="11.6" text-anchor="start" fill="#000" stroke="#000" stroke-width="0.25" textLength="115.2" lengthAdjust="spacingAndGlyphs" >Niederschlag - Monat</text>
<text xml:space="preserve" x="1005.8" y="571.3" font-family='"Liberation Sans", sans-serif' font-size="12.4" text-anchor="start" fill="#000" stroke="#000" stroke-width="0.25" textLength="112.2" lengthAdjust="spacingAndGlyphs" >Höchste-Temperatur</text>
<text xml:space="preserve" x="999.0" y="592.0" font-family='"Liberation Sans", sans-serif' font-size="12.4" text-anchor="start" fill="#000" stroke="#000" stroke-width="0.25" textLength="124.7" lengthAdjust="spacingAndGlyphs" >Niedrigste-Temperatur</text>
<text xml:space="preserve" x="1032.5" y="611.1" font-family='"Liberation Sans", sans-serif' font-size="12" text-anchor="start" fill="#000" stroke="#000" stroke-width="0.25" textLength="57.7" lengthAdjust="spacingAndGlyphs" >Tagesmittel</text>
<text xml:space="preserve" x="1025.6" y="633.6" font-family='"Liberation Sans", sans-serif' font-size="14" text-anchor="start" fill="#000" stroke="#000" stroke-width="0.25" textLength="71.8" lengthAdjust="spacingAndGlyphs" >Kältesumme</text>
<text xml:space="preserve" x="1000.8" y="654.0" font-family='"Liberation Sans", sans-serif' font-size="12" text-anchor="start" fill="#000" stroke="#000" stroke-width="0.25" textLength="122.8" lengthAdjust="spacingAndGlyphs" >Min-Bodentemperatur</text>
<text xml:space="preserve" x="1002.2" y="674.2" font-family='"Liberation Sans", sans-serif' font-size="12" text-anchor="start" fill="#000" stroke="#000" stroke-width="0.25" font-weight="bold" textLength="117.8" lengthAdjust="spacingAndGlyphs" >Mittel 1961-1990 in °C</text>
<text xml:space="preserve" x="996.9" y="694.4" font-family='"Liberation Serif", serif' font-size="12" text-anchor="start" fill="#ff0000" stroke="#ff0000" stroke-width="0.25" font-weight="bold" textLength="127.3" lengthAdjust="spacingAndGlyphs" >Abweichung v. Mittel in °C</text>
<text xml:space="preserve" x="1007.7" y="736.3" font-family='"Liberation Serif", serif' font-size="13.5" text-anchor="start" fill="#000" stroke="#000" stroke-width="0.25" textLength="108.0" lengthAdjust="spacingAndGlyphs" >Schneedecke -   SH</text>
<text xml:space="preserve" x="1001.4" y="756.3" font-family='"Liberation Serif", serif' font-size="13.5" text-anchor="start" fill="#000" stroke="#000" stroke-width="0.25" textLength="121.2" lengthAdjust="spacingAndGlyphs" >Neuschneehöhe- NSH</text>
<text xml:space="preserve" x="1143.2" y="116.8" font-family='"Liberation Sans", sans-serif' font-size="13.6" text-anchor="start" fill="#000" stroke="#000" stroke-width="0.25" font-weight="bold" textLength="6.5" lengthAdjust="spacingAndGlyphs" >4</text>
<text xml:space="preserve" x="1143.2" y="137.60000000000002" font-family='"Liberation Sans", sans-serif' font-size="13.6" text-anchor="start" fill="#000" stroke="#000" stroke-width="0.25" font-weight="bold" textLength="6.5" lengthAdjust="spacingAndGlyphs" >7</text>
<text xml:space="preserve" x="1140.5" y="158.10000000000002" font-family='"Liberation Sans", sans-serif' font-size="13.6" text-anchor="start" fill="#000" stroke="#000" stroke-width="0.25" font-weight="bold" textLength="12.2" lengthAdjust="spacingAndGlyphs" >15</text>
<text xml:space="preserve" x="1142.8999999999999" y="178.70000000000002" font-family='"Liberation Sans", sans-serif' font-size="13.6" text-anchor="start" fill="#000" stroke="#000" stroke-width="0.25" font-weight="bold" textLength="7.1" lengthAdjust="spacingAndGlyphs" >0</text>
<text xml:space="preserve" x="1139.8" y="199.60000000000002" font-family='"Liberation Sans", sans-serif' font-size="13.6" text-anchor="start" fill="#000" stroke="#000" stroke-width="0.25" font-weight="bold" textLength="12.9" lengthAdjust="spacingAndGlyphs" >19</text>
<text xml:space="preserve" x="1139.5" y="220.20000000000002" font-family='"Liberation Sans", sans-serif' font-size="13.6" text-anchor="start" fill="#000" stroke="#000" stroke-width="0.25" font-weight="bold" textLength="15.1" lengthAdjust="spacingAndGlyphs" >KD</text>
<text xml:space="preserve" x="1139.5" y="240.9" font-family='"Liberation Sans", sans-serif' font-size="13.6" text-anchor="start" fill="#000" stroke="#000" stroke-width="0.25" font-weight="bold" textLength="15.1" lengthAdjust="spacingAndGlyphs" >KD</text>
<text xml:space="preserve" x="1142.8999999999999" y="261.2" font-family='"Liberation Sans", sans-serif' font-size="13.6" text-anchor="start" fill="#000" stroke="#000" stroke-width="0.25" font-weight="bold" textLength="7.1" lengthAdjust="spacingAndGlyphs" >0</text>
<text xml:space="preserve" x="1142.8999999999999" y="282.2" font-family='"Liberation Sans", sans-serif' font-size="13.6" text-anchor="start" fill="#000" stroke="#000" stroke-width="0.25" font-weight="bold" textLength="7.1" lengthAdjust="spacingAndGlyphs" >0</text>
<text xml:space="preserve" x="1138.2" y="313.40000000000003" font-family='"Liberation Sans", sans-serif' font-size="13.6" text-anchor="start" fill="#000" stroke="#000" stroke-width="0.25" font-weight="bold" textLength="16.3" lengthAdjust="spacingAndGlyphs" >6,2</text>
<text xml:space="preserve" x="1138.2" y="352.6" font-family='"Liberation Sans", sans-serif' font-size="13.6" text-anchor="start" fill="#000" stroke="#000" stroke-width="0.25" font-weight="bold" textLength="16.3" lengthAdjust="spacingAndGlyphs" >0,1</text>
<text xml:space="preserve" x="1138.8" y="382.8" font-family='"Liberation Sans", sans-serif' font-size="13.6" text-anchor="start" fill="#000" stroke="#000" stroke-width="0.25" font-weight="bold" textLength="15.7" lengthAdjust="spacingAndGlyphs" >7,5</text>
<text xml:space="preserve" x="1136.3" y="403.0" font-family='"Liberation Sans", sans-serif' font-size="13.6" text-anchor="start" fill="#000" stroke="#000" stroke-width="0.25" font-weight="bold" textLength="21.0" lengthAdjust="spacingAndGlyphs" >-0,5</text>
<text xml:space="preserve" x="1134.7" y="423.8" font-family='"Liberation Sans", sans-serif' font-size="13.6" text-anchor="start" fill="#000" stroke="#000" stroke-width="0.25" font-weight="bold" textLength="23.3" lengthAdjust="spacingAndGlyphs" >14,0</text>
<text xml:space="preserve" x="1139.5" y="446.1" font-family='"Liberation Sans", sans-serif' font-size="13.6" text-anchor="start" fill="#000" stroke="#000" stroke-width="0.25" font-weight="bold" textLength="15.1" lengthAdjust="spacingAndGlyphs" >KD</text>
<text xml:space="preserve" x="1138.3" y="478.3" font-family='"Liberation Serif", serif' font-size="14" text-anchor="start" fill="#000" stroke="#000" stroke-width="0.25" font-weight="bold" textLength="16.3" lengthAdjust="spacingAndGlyphs" >3,1</text>
<text xml:space="preserve" x="1139.5" y="509.90000000000003" font-family='"Liberation Sans", sans-serif' font-size="13.6" text-anchor="start" fill="#000" stroke="#000" stroke-width="0.25" font-weight="bold" textLength="15.1" lengthAdjust="spacingAndGlyphs" >KD</text>
<text xml:space="preserve" x="1135.3" y="551.0999999999999" font-family='"Liberation Sans", sans-serif' font-size="13.6" text-anchor="start" fill="#000" stroke="#000" stroke-width="0.25" font-weight="bold" textLength="22.6" lengthAdjust="spacingAndGlyphs" >73,6</text>
<text xml:space="preserve" x="1135.3" y="572.0999999999999" font-family='"Liberation Sans", sans-serif' font-size="13.6" text-anchor="start" fill="#000" stroke="#000" stroke-width="0.25" font-weight="bold" textLength="22.6" lengthAdjust="spacingAndGlyphs" >13,0</text>
<text xml:space="preserve" x="1136.8" y="592.8" font-family='"Liberation Sans", sans-serif' font-size="13.6" text-anchor="start" fill="#000" stroke="#000" stroke-width="0.25" font-weight="bold" textLength="19.9" lengthAdjust="spacingAndGlyphs" >-2,5</text>
<text xml:space="preserve" x="1139.0" y="613.3" font-family='"Liberation Sans", sans-serif' font-size="13.6" text-anchor="start" fill="#000" stroke="#000" stroke-width="0.25" font-weight="bold" textLength="15.9" lengthAdjust="spacingAndGlyphs" >3,1</text>
<text xml:space="preserve" x="1136.8" y="633.8" font-family='"Liberation Sans", sans-serif' font-size="13.6" text-anchor="start" fill="#000" stroke="#000" stroke-width="0.25" font-weight="bold" textLength="20.4" lengthAdjust="spacingAndGlyphs" >-0,6</text>
<text xml:space="preserve" x="1139.2" y="654.8" font-family='"Liberation Sans", sans-serif' font-size="13.6" text-anchor="start" fill="#000" stroke="#000" stroke-width="0.25" font-weight="bold" textLength="15.1" lengthAdjust="spacingAndGlyphs" >KD</text>
<text xml:space="preserve" x="1136.6" y="674.4" font-family='"Liberation Serif", serif' font-size="16" text-anchor="start" fill="#000" stroke="#000" stroke-width="0.25" font-weight="bold" textLength="20.7" lengthAdjust="spacingAndGlyphs" >-0,6</text>
<text xml:space="preserve" x="1137.8" y="693.8" font-family='"Liberation Serif", serif' font-size="16" text-anchor="start" fill="#ff0000" stroke="#ff0000" stroke-width="0.25" font-weight="bold" textLength="16.4" lengthAdjust="spacingAndGlyphs" >3,7</text>
<text xml:space="preserve" x="1137.2" y="715.8" font-family='"Liberation Serif", serif' font-size="10.5" text-anchor="start" fill="#000" stroke="#000" stroke-width="0.25" font-weight="bold" textLength="19.9" lengthAdjust="spacingAndGlyphs" >Max</text>
<text xml:space="preserve" x="1140.6" y="736.9" font-family='"Liberation Sans", sans-serif' font-size="13.6" text-anchor="start" fill="#000" stroke="#000" stroke-width="0.25" font-weight="bold" textLength="12.1" lengthAdjust="spacingAndGlyphs" >15</text>
<text xml:space="preserve" x="1143.5" y="756.9" font-family='"Liberation Sans", sans-serif' font-size="13.6" text-anchor="start" fill="#000" stroke="#000" stroke-width="0.25" font-weight="bold" textLength="5.3" lengthAdjust="spacingAndGlyphs" >7</text>
<text xml:space="preserve" x="19.5" y="509.6" font-family='"Liberation Sans", sans-serif' font-size="12.5" text-anchor="middle" fill="#000" stroke="#000" stroke-width="0.25" >Tag</text>
<text xml:space="preserve" x="0" y="0" transform="translate(28.70,530.10) scale(0.84,1)" font-family='"Liberation Sans", sans-serif' font-size="14.8" text-anchor="middle" fill="#000" stroke="#000" stroke-width="0.25" >°C</text>
<text xml:space="preserve" x="0" y="0" transform="translate(28.70,571.70) scale(0.84,1)" font-family='"Liberation Sans", sans-serif' font-size="14.8" text-anchor="middle" fill="#000" stroke="#000" stroke-width="0.25" >°C</text>
<text xml:space="preserve" x="0" y="0" transform="translate(28.70,592.20) scale(0.84,1)" font-family='"Liberation Sans", sans-serif' font-size="14.8" text-anchor="middle" fill="#000" stroke="#000" stroke-width="0.25" >°C</text>
<text xml:space="preserve" x="0" y="0" transform="translate(28.70,613.00) scale(0.84,1)" font-family='"Liberation Sans", sans-serif' font-size="14.8" text-anchor="middle" fill="#000" stroke="#000" stroke-width="0.25" >°C</text>
<text xml:space="preserve" x="22" y="550.6" font-family='"Liberation Sans", sans-serif' font-size="9.5" text-anchor="start" fill="#000" stroke="#000" stroke-width="0.25" textLength="13.6" lengthAdjust="spacingAndGlyphs" >l/m²</text>
<text xml:space="preserve" x="0" y="0" transform="translate(65.90,551.00) scale(0.8,1)" font-family='"Liberation Serif", serif' font-size="14.2" text-anchor="end" fill="#000" stroke="#000" stroke-width="0.25" >5,6</text>
<text xml:space="preserve" x="0" y="0" transform="translate(53.00,571.80) scale(0.86,1)" font-family='"Liberation Serif", serif' font-size="15.4" text-anchor="middle" fill="#000" stroke="#000" stroke-width="0.25" >4,2</text>
<text xml:space="preserve" x="0" y="0" transform="translate(53.00,592.50) scale(0.88,1)" font-family='"Liberation Serif", serif' font-size="15.0" text-anchor="middle" fill="#000" stroke="#000" stroke-width="0.25" >0,5</text>
<text xml:space="preserve" x="66.2" y="613.5" font-family='"Liberation Serif", serif' font-size="14.5" text-anchor="end" fill="#000" stroke="#000" stroke-width="0.25" >2,4</text>
<text xml:space="preserve" x="0" y="0" transform="translate(96.90,551.00) scale(0.8,1)" font-family='"Liberation Serif", serif' font-size="14.2" text-anchor="end" fill="#000" stroke="#000" stroke-width="0.25" >11,1</text>
<text xml:space="preserve" x="0" y="0" transform="translate(84.00,571.80) scale(0.86,1)" font-family='"Liberation Serif", serif' font-size="15.4" text-anchor="middle" fill="#000" stroke="#000" stroke-width="0.25" >2,1</text>
<text xml:space="preserve" x="0" y="0" transform="translate(84.00,592.50) scale(0.88,1)" font-family='"Liberation Serif", serif' font-size="15.0" text-anchor="middle" fill="#000" stroke="#000" stroke-width="0.25" >-0,3</text>
<text xml:space="preserve" x="97.2" y="613.5" font-family='"Liberation Serif", serif' font-size="14.5" text-anchor="end" fill="#000" stroke="#000" stroke-width="0.25" >0,9</text>
<text xml:space="preserve" x="0" y="0" transform="translate(127.90,551.00) scale(0.8,1)" font-family='"Liberation Serif", serif' font-size="14.2" text-anchor="end" fill="#000" stroke="#000" stroke-width="0.25" >3,7</text>
<text xml:space="preserve" x="0" y="0" transform="translate(115.00,571.80) scale(0.86,1)" font-family='"Liberation Serif", serif' font-size="15.4" text-anchor="middle" fill="#000" stroke="#000" stroke-width="0.25" >3,1</text>
<text xml:space="preserve" x="0" y="0" transform="translate(115.00,592.50) scale(0.88,1)" font-family='"Liberation Serif", serif' font-size="15.0" text-anchor="middle" fill="#000" stroke="#000" stroke-width="0.25" >-0,3</text>
<text xml:space="preserve" x="128.2" y="613.5" font-family='"Liberation Serif", serif' font-size="14.5" text-anchor="end" fill="#000" stroke="#000" stroke-width="0.25" >1,4</text>
<text xml:space="preserve" x="0" y="0" transform="translate(157.90,551.00) scale(0.8,1)" font-family='"Liberation Serif", serif' font-size="14.2" text-anchor="end" fill="#000" stroke="#000" stroke-width="0.25" >8,3</text>
<text xml:space="preserve" x="0" y="0" transform="translate(145.50,571.80) scale(0.86,1)" font-family='"Liberation Serif", serif' font-size="15.4" text-anchor="middle" fill="#000" stroke="#000" stroke-width="0.25" >0,8</text>
<text xml:space="preserve" x="0" y="0" transform="translate(145.50,592.50) scale(0.88,1)" font-family='"Liberation Serif", serif' font-size="15.0" text-anchor="middle" fill="#000" stroke="#000" stroke-width="0.25" >-1,1</text>
<text xml:space="preserve" x="158.2" y="613.5" font-family='"Liberation Serif", serif' font-size="14.5" text-anchor="end" fill="#000" stroke="#000" stroke-width="0.25" >-0,1</text>
<text xml:space="preserve" x="0" y="0" transform="translate(188.90,551.00) scale(0.8,1)" font-family='"Liberation Serif", serif' font-size="14.2" text-anchor="end" fill="#000" stroke="#000" stroke-width="0.25" >0,4</text>
<text xml:space="preserve" x="0" y="0" transform="translate(176.00,571.80) scale(0.86,1)" font-family='"Liberation Serif", serif' font-size="15.4" text-anchor="middle" fill="#000" stroke="#000" stroke-width="0.25" >1,4</text>
<text xml:space="preserve" x="0" y="0" transform="translate(176.00,592.50) scale(0.88,1)" font-family='"Liberation Serif", serif' font-size="15.0" text-anchor="middle" fill="#000" stroke="#000" stroke-width="0.25" >-2,3</text>
<text xml:space="preserve" x="189.2" y="613.5" font-family='"Liberation Serif", serif' font-size="14.5" text-anchor="end" fill="#000" stroke="#000" stroke-width="0.25" >-0,5</text>
<text xml:space="preserve" x="0" y="0" transform="translate(219.90,551.00) scale(0.8,1)" font-family='"Liberation Serif", serif' font-size="14.2" text-anchor="end" fill="#000" stroke="#000" stroke-width="0.25" >1,6</text>
<text xml:space="preserve" x="0" y="0" transform="translate(207.00,571.80) scale(0.86,1)" font-family='"Liberation Serif", serif' font-size="15.4" text-anchor="middle" fill="#000" stroke="#000" stroke-width="0.25" >3,1</text>
<text xml:space="preserve" x="0" y="0" transform="translate(207.00,592.50) scale(0.88,1)" font-family='"Liberation Serif", serif' font-size="15.0" text-anchor="middle" fill="#000" stroke="#000" stroke-width="0.25" >-1,7</text>
<text xml:space="preserve" x="220.2" y="613.5" font-family='"Liberation Serif", serif' font-size="14.5" text-anchor="end" fill="#000" stroke="#000" stroke-width="0.25" >0,7</text>
<text xml:space="preserve" x="0" y="0" transform="translate(250.90,551.00) scale(0.8,1)" font-family='"Liberation Serif", serif' font-size="14.2" text-anchor="end" fill="#000" stroke="#000" stroke-width="0.25" >1,5</text>
<text xml:space="preserve" x="0" y="0" transform="translate(238.00,571.80) scale(0.86,1)" font-family='"Liberation Serif", serif' font-size="15.4" text-anchor="middle" fill="#000" stroke="#000" stroke-width="0.25" >4,9</text>
<text xml:space="preserve" x="0" y="0" transform="translate(238.00,592.50) scale(0.88,1)" font-family='"Liberation Serif", serif' font-size="15.0" text-anchor="middle" fill="#000" stroke="#000" stroke-width="0.25" >1,5</text>
<text xml:space="preserve" x="251.2" y="613.5" font-family='"Liberation Serif", serif' font-size="14.5" text-anchor="end" fill="#000" stroke="#000" stroke-width="0.25" >3,2</text>
<text xml:space="preserve" x="0" y="0" transform="translate(281.90,551.00) scale(0.8,1)" font-family='"Liberation Serif", serif' font-size="14.2" text-anchor="end" fill="#000" stroke="#000" stroke-width="0.25" >9,6</text>
<text xml:space="preserve" x="0" y="0" transform="translate(269.00,571.80) scale(0.86,1)" font-family='"Liberation Serif", serif' font-size="15.4" text-anchor="middle" fill="#000" stroke="#000" stroke-width="0.25" >4,8</text>
<text xml:space="preserve" x="0" y="0" transform="translate(269.00,592.50) scale(0.88,1)" font-family='"Liberation Serif", serif' font-size="15.0" text-anchor="middle" fill="#000" stroke="#000" stroke-width="0.25" >1,5</text>
<text xml:space="preserve" x="282.2" y="613.5" font-family='"Liberation Serif", serif' font-size="14.5" text-anchor="end" fill="#000" stroke="#000" stroke-width="0.25" >3,1</text>
<text xml:space="preserve" x="0" y="0" transform="translate(312.90,551.00) scale(0.8,1)" font-family='"Liberation Serif", serif' font-size="14.2" text-anchor="end" fill="#000" stroke="#000" stroke-width="0.25" >6,3</text>
<text xml:space="preserve" x="0" y="0" transform="translate(300.00,571.80) scale(0.86,1)" font-family='"Liberation Serif", serif' font-size="15.4" text-anchor="middle" fill="#000" stroke="#000" stroke-width="0.25" >7,3</text>
<text xml:space="preserve" x="0" y="0" transform="translate(300.00,592.50) scale(0.88,1)" font-family='"Liberation Serif", serif' font-size="15.0" text-anchor="middle" fill="#000" stroke="#000" stroke-width="0.25" >2,4</text>
<text xml:space="preserve" x="313.2" y="613.5" font-family='"Liberation Serif", serif' font-size="14.5" text-anchor="end" fill="#000" stroke="#000" stroke-width="0.25" >4,9</text>
<text xml:space="preserve" x="0" y="0" transform="translate(343.90,551.00) scale(0.8,1)" font-family='"Liberation Serif", serif' font-size="14.2" text-anchor="end" fill="#000" stroke="#000" stroke-width="0.25" >0,0</text>
<text xml:space="preserve" x="0" y="0" transform="translate(331.00,571.80) scale(0.86,1)" font-family='"Liberation Serif", serif' font-size="15.4" text-anchor="middle" fill="#000" stroke="#000" stroke-width="0.25" >5,2</text>
<text xml:space="preserve" x="0" y="0" transform="translate(331.00,592.50) scale(0.88,1)" font-family='"Liberation Serif", serif' font-size="15.0" text-anchor="middle" fill="#000" stroke="#000" stroke-width="0.25" >2,2</text>
<text xml:space="preserve" x="344.2" y="613.5" font-family='"Liberation Serif", serif' font-size="14.5" text-anchor="end" fill="#000" stroke="#000" stroke-width="0.25" >3,7</text>
<text xml:space="preserve" x="0" y="0" transform="translate(374.90,551.00) scale(0.8,1)" font-family='"Liberation Serif", serif' font-size="14.2" text-anchor="end" fill="#000" stroke="#000" stroke-width="0.25" >14,0</text>
<text xml:space="preserve" x="0" y="0" transform="translate(362.00,571.80) scale(0.86,1)" font-family='"Liberation Serif", serif' font-size="15.4" text-anchor="middle" fill="#000" stroke="#000" stroke-width="0.25" >5,7</text>
<text xml:space="preserve" x="0" y="0" transform="translate(362.00,592.50) scale(0.88,1)" font-family='"Liberation Serif", serif' font-size="15.0" text-anchor="middle" fill="#000" stroke="#000" stroke-width="0.25" >0,2</text>
<text xml:space="preserve" x="375.2" y="613.5" font-family='"Liberation Serif", serif' font-size="14.5" text-anchor="end" fill="#000" stroke="#000" stroke-width="0.25" >3,0</text>
<text xml:space="preserve" x="0" y="0" transform="translate(404.90,551.00) scale(0.8,1)" font-family='"Liberation Serif", serif' font-size="14.2" text-anchor="end" fill="#000" stroke="#000" stroke-width="0.25" >0,9</text>
<text xml:space="preserve" x="0" y="0" transform="translate(392.50,571.80) scale(0.86,1)" font-family='"Liberation Serif", serif' font-size="15.4" text-anchor="middle" fill="#000" stroke="#000" stroke-width="0.25" >5,7</text>
<text xml:space="preserve" x="0" y="0" transform="translate(392.50,592.50) scale(0.88,1)" font-family='"Liberation Serif", serif' font-size="15.0" text-anchor="middle" fill="#000" stroke="#000" stroke-width="0.25" >2,8</text>
<text xml:space="preserve" x="405.2" y="613.5" font-family='"Liberation Serif", serif' font-size="14.5" text-anchor="end" fill="#000" stroke="#000" stroke-width="0.25" >4,3</text>
<text xml:space="preserve" x="0" y="0" transform="translate(435.90,551.00) scale(0.8,1)" font-family='"Liberation Serif", serif' font-size="14.2" text-anchor="end" fill="#000" stroke="#000" stroke-width="0.25" >3,2</text>
<text xml:space="preserve" x="0" y="0" transform="translate(423.00,571.80) scale(0.86,1)" font-family='"Liberation Serif", serif' font-size="15.4" text-anchor="middle" fill="#000" stroke="#000" stroke-width="0.25" >4,9</text>
<text xml:space="preserve" x="0" y="0" transform="translate(423.00,592.50) scale(0.88,1)" font-family='"Liberation Serif", serif' font-size="15.0" text-anchor="middle" fill="#000" stroke="#000" stroke-width="0.25" >1,9</text>
<text xml:space="preserve" x="436.2" y="613.5" font-family='"Liberation Serif", serif' font-size="14.5" text-anchor="end" fill="#000" stroke="#000" stroke-width="0.25" >3,4</text>
<text xml:space="preserve" x="0" y="0" transform="translate(466.90,551.00) scale(0.8,1)" font-family='"Liberation Serif", serif' font-size="14.2" text-anchor="end" fill="#000" stroke="#000" stroke-width="0.25" >0,2</text>
<text xml:space="preserve" x="0" y="0" transform="translate(454.00,571.80) scale(0.86,1)" font-family='"Liberation Serif", serif' font-size="15.4" text-anchor="middle" fill="#000" stroke="#000" stroke-width="0.25" >9,0</text>
<text xml:space="preserve" x="0" y="0" transform="translate(454.00,592.50) scale(0.88,1)" font-family='"Liberation Serif", serif' font-size="15.0" text-anchor="middle" fill="#000" stroke="#000" stroke-width="0.25" >2,7</text>
<text xml:space="preserve" x="467.2" y="613.5" font-family='"Liberation Serif", serif' font-size="14.5" text-anchor="end" fill="#000" stroke="#000" stroke-width="0.25" >5,9</text>
<text xml:space="preserve" x="0" y="0" transform="translate(497.90,551.00) scale(0.8,1)" font-family='"Liberation Serif", serif' font-size="14.2" text-anchor="end" fill="#000" stroke="#000" stroke-width="0.25" >0,0</text>
<text xml:space="preserve" x="0" y="0" transform="translate(485.00,571.80) scale(0.86,1)" font-family='"Liberation Serif", serif' font-size="15.4" text-anchor="middle" fill="#000" stroke="#000" stroke-width="0.25" >6,9</text>
<text xml:space="preserve" x="0" y="0" transform="translate(485.00,592.50) scale(0.88,1)" font-family='"Liberation Serif", serif' font-size="15.0" text-anchor="middle" fill="#000" stroke="#000" stroke-width="0.25" >1,7</text>
<text xml:space="preserve" x="498.2" y="613.5" font-family='"Liberation Serif", serif' font-size="14.5" text-anchor="end" fill="#000" stroke="#000" stroke-width="0.25" >4,3</text>
<text xml:space="preserve" x="0" y="0" transform="translate(528.90,551.00) scale(0.8,1)" font-family='"Liberation Serif", serif' font-size="14.2" text-anchor="end" fill="#000" stroke="#000" stroke-width="0.25" >0,0</text>
<text xml:space="preserve" x="0" y="0" transform="translate(516.00,571.80) scale(0.86,1)" font-family='"Liberation Serif", serif' font-size="15.4" text-anchor="middle" fill="#000" stroke="#000" stroke-width="0.25" >4,7</text>
<text xml:space="preserve" x="0" y="0" transform="translate(516.00,592.50) scale(0.88,1)" font-family='"Liberation Serif", serif' font-size="15.0" text-anchor="middle" fill="#000" stroke="#000" stroke-width="0.25" >1,0</text>
<text xml:space="preserve" x="529.2" y="613.5" font-family='"Liberation Serif", serif' font-size="14.5" text-anchor="end" fill="#000" stroke="#000" stroke-width="0.25" >2,8</text>
<text xml:space="preserve" x="0" y="0" transform="translate(559.90,551.00) scale(0.8,1)" font-family='"Liberation Serif", serif' font-size="14.2" text-anchor="end" fill="#000" stroke="#000" stroke-width="0.25" >0,1</text>
<text xml:space="preserve" x="0" y="0" transform="translate(547.00,571.80) scale(0.86,1)" font-family='"Liberation Serif", serif' font-size="15.4" text-anchor="middle" fill="#000" stroke="#000" stroke-width="0.25" >6,3</text>
<text xml:space="preserve" x="0" y="0" transform="translate(547.00,592.50) scale(0.88,1)" font-family='"Liberation Serif", serif' font-size="15.0" text-anchor="middle" fill="#000" stroke="#000" stroke-width="0.25" >-1,1</text>
<text xml:space="preserve" x="560.2" y="613.5" font-family='"Liberation Serif", serif' font-size="14.5" text-anchor="end" fill="#000" stroke="#000" stroke-width="0.25" >2,6</text>
<text xml:space="preserve" x="0" y="0" transform="translate(590.90,551.00) scale(0.8,1)" font-family='"Liberation Serif", serif' font-size="14.2" text-anchor="end" fill="#000" stroke="#000" stroke-width="0.25" >1,1</text>
<text xml:space="preserve" x="0" y="0" transform="translate(578.00,571.80) scale(0.86,1)" font-family='"Liberation Serif", serif' font-size="15.4" text-anchor="middle" fill="#000" stroke="#000" stroke-width="0.25" >2,8</text>
<text xml:space="preserve" x="0" y="0" transform="translate(578.00,592.50) scale(0.88,1)" font-family='"Liberation Serif", serif' font-size="15.0" text-anchor="middle" fill="#000" stroke="#000" stroke-width="0.25" >-1,9</text>
<text xml:space="preserve" x="591.2" y="613.5" font-family='"Liberation Serif", serif' font-size="14.5" text-anchor="end" fill="#000" stroke="#000" stroke-width="0.25" >0,5</text>
<text xml:space="preserve" x="0" y="0" transform="translate(621.90,551.00) scale(0.8,1)" font-family='"Liberation Serif", serif' font-size="14.2" text-anchor="end" fill="#000" stroke="#000" stroke-width="0.25" >0,1</text>
<text xml:space="preserve" x="0" y="0" transform="translate(609.00,571.80) scale(0.86,1)" font-family='"Liberation Serif", serif' font-size="15.4" text-anchor="middle" fill="#000" stroke="#000" stroke-width="0.25" >5,6</text>
<text xml:space="preserve" x="0" y="0" transform="translate(609.00,592.50) scale(0.88,1)" font-family='"Liberation Serif", serif' font-size="15.0" text-anchor="middle" fill="#000" stroke="#000" stroke-width="0.25" >0,2</text>
<text xml:space="preserve" x="622.2" y="613.5" font-family='"Liberation Serif", serif' font-size="14.5" text-anchor="end" fill="#000" stroke="#000" stroke-width="0.25" >2,9</text>
<text xml:space="preserve" x="0" y="0" transform="translate(651.90,551.00) scale(0.8,1)" font-family='"Liberation Serif", serif' font-size="14.2" text-anchor="end" fill="#000" stroke="#000" stroke-width="0.25" >0,0</text>
<text xml:space="preserve" x="0" y="0" transform="translate(639.50,571.80) scale(0.86,1)" font-family='"Liberation Serif", serif' font-size="15.4" text-anchor="middle" fill="#000" stroke="#000" stroke-width="0.25" >7,7</text>
<text xml:space="preserve" x="0" y="0" transform="translate(639.50,592.50) scale(0.88,1)" font-family='"Liberation Serif", serif' font-size="15.0" text-anchor="middle" fill="#000" stroke="#000" stroke-width="0.25" >-0,6</text>
<text xml:space="preserve" x="652.2" y="613.5" font-family='"Liberation Serif", serif' font-size="14.5" text-anchor="end" fill="#000" stroke="#000" stroke-width="0.25" >3,6</text>
<text xml:space="preserve" x="0" y="0" transform="translate(682.90,551.00) scale(0.8,1)" font-family='"Liberation Serif", serif' font-size="14.2" text-anchor="end" fill="#000" stroke="#000" stroke-width="0.25" >0,0</text>
<text xml:space="preserve" x="0" y="0" transform="translate(670.00,571.80) scale(0.86,1)" font-family='"Liberation Serif", serif' font-size="15.4" text-anchor="middle" fill="#000" stroke="#000" stroke-width="0.25" >6,9</text>
<text xml:space="preserve" x="0" y="0" transform="translate(670.00,592.50) scale(0.88,1)" font-family='"Liberation Serif", serif' font-size="15.0" text-anchor="middle" fill="#000" stroke="#000" stroke-width="0.25" >-1,3</text>
<text xml:space="preserve" x="683.2" y="613.5" font-family='"Liberation Serif", serif' font-size="14.5" text-anchor="end" fill="#000" stroke="#000" stroke-width="0.25" >2,8</text>
<text xml:space="preserve" x="0" y="0" transform="translate(713.90,551.00) scale(0.8,1)" font-family='"Liberation Serif", serif' font-size="14.2" text-anchor="end" fill="#000" stroke="#000" stroke-width="0.25" >0,0</text>
<text xml:space="preserve" x="0" y="0" transform="translate(701.00,571.80) scale(0.86,1)" font-family='"Liberation Serif", serif' font-size="15.4" text-anchor="middle" fill="#000" stroke="#000" stroke-width="0.25" >8,5</text>
<text xml:space="preserve" x="0" y="0" transform="translate(701.00,592.50) scale(0.88,1)" font-family='"Liberation Serif", serif' font-size="15.0" text-anchor="middle" fill="#000" stroke="#000" stroke-width="0.25" >-1,9</text>
<text xml:space="preserve" x="714.2" y="613.5" font-family='"Liberation Serif", serif' font-size="14.5" text-anchor="end" fill="#000" stroke="#000" stroke-width="0.25" >3,3</text>
<text xml:space="preserve" x="0" y="0" transform="translate(744.90,551.00) scale(0.8,1)" font-family='"Liberation Serif", serif' font-size="14.2" text-anchor="end" fill="#000" stroke="#000" stroke-width="0.25" >0,0</text>
<text xml:space="preserve" x="0" y="0" transform="translate(732.00,571.80) scale(0.86,1)" font-family='"Liberation Serif", serif' font-size="15.4" text-anchor="middle" fill="#000" stroke="#000" stroke-width="0.25" >7,7</text>
<text xml:space="preserve" x="0" y="0" transform="translate(732.00,592.50) scale(0.88,1)" font-family='"Liberation Serif", serif' font-size="15.0" text-anchor="middle" fill="#000" stroke="#000" stroke-width="0.25" >-2,5</text>
<text xml:space="preserve" x="745.2" y="613.5" font-family='"Liberation Serif", serif' font-size="14.5" text-anchor="end" fill="#000" stroke="#000" stroke-width="0.25" >2,6</text>
<text xml:space="preserve" x="0" y="0" transform="translate(775.90,551.00) scale(0.8,1)" font-family='"Liberation Serif", serif' font-size="14.2" text-anchor="end" fill="#000" stroke="#000" stroke-width="0.25" >0,0</text>
<text xml:space="preserve" x="0" y="0" transform="translate(763.00,571.80) scale(0.86,1)" font-family='"Liberation Serif", serif' font-size="15.4" text-anchor="middle" fill="#000" stroke="#000" stroke-width="0.25" >10,4</text>
<text xml:space="preserve" x="0" y="0" transform="translate(763.00,592.50) scale(0.88,1)" font-family='"Liberation Serif", serif' font-size="15.0" text-anchor="middle" fill="#000" stroke="#000" stroke-width="0.25" >-1,5</text>
<text xml:space="preserve" x="776.2" y="613.5" font-family='"Liberation Serif", serif' font-size="14.5" text-anchor="end" fill="#000" stroke="#000" stroke-width="0.25" >4,5</text>
<text xml:space="preserve" x="0" y="0" transform="translate(806.90,551.00) scale(0.8,1)" font-family='"Liberation Serif", serif' font-size="14.2" text-anchor="end" fill="#000" stroke="#000" stroke-width="0.25" >0,0</text>
<text xml:space="preserve" x="0" y="0" transform="translate(794.00,571.80) scale(0.86,1)" font-family='"Liberation Serif", serif' font-size="15.4" text-anchor="middle" fill="#000" stroke="#000" stroke-width="0.25" >9,8</text>
<text xml:space="preserve" x="0" y="0" transform="translate(794.00,592.50) scale(0.88,1)" font-family='"Liberation Serif", serif' font-size="15.0" text-anchor="middle" fill="#000" stroke="#000" stroke-width="0.25" >-0,7</text>
<text xml:space="preserve" x="807.2" y="613.5" font-family='"Liberation Serif", serif' font-size="14.5" text-anchor="end" fill="#000" stroke="#000" stroke-width="0.25" >4,6</text>
<text xml:space="preserve" x="0" y="0" transform="translate(837.90,551.00) scale(0.8,1)" font-family='"Liberation Serif", serif' font-size="14.2" text-anchor="end" fill="#000" stroke="#000" stroke-width="0.25" >0,6</text>
<text xml:space="preserve" x="0" y="0" transform="translate(825.00,571.80) scale(0.86,1)" font-family='"Liberation Serif", serif' font-size="15.4" text-anchor="middle" fill="#000" stroke="#000" stroke-width="0.25" >11,8</text>
<text xml:space="preserve" x="0" y="0" transform="translate(825.00,592.50) scale(0.88,1)" font-family='"Liberation Serif", serif' font-size="15.0" text-anchor="middle" fill="#000" stroke="#000" stroke-width="0.25" >-0,5</text>
<text xml:space="preserve" x="838.2" y="613.5" font-family='"Liberation Serif", serif' font-size="14.5" text-anchor="end" fill="#000" stroke="#000" stroke-width="0.25" >5,7</text>
<text xml:space="preserve" x="0" y="0" transform="translate(867.90,551.00) scale(0.8,1)" font-family='"Liberation Serif", serif' font-size="14.2" text-anchor="end" fill="#000" stroke="#000" stroke-width="0.25" >0,1</text>
<text xml:space="preserve" x="0" y="0" transform="translate(855.50,571.80) scale(0.86,1)" font-family='"Liberation Serif", serif' font-size="15.4" text-anchor="middle" fill="#000" stroke="#000" stroke-width="0.25" >10,9</text>
<text xml:space="preserve" x="0" y="0" transform="translate(855.50,592.50) scale(0.88,1)" font-family='"Liberation Serif", serif' font-size="15.0" text-anchor="middle" fill="#000" stroke="#000" stroke-width="0.25" >1,8</text>
<text xml:space="preserve" x="868.2" y="613.5" font-family='"Liberation Serif", serif' font-size="14.5" text-anchor="end" fill="#000" stroke="#000" stroke-width="0.25" >6,4</text>
<text xml:space="preserve" x="0" y="0" transform="translate(898.90,551.00) scale(0.8,1)" font-family='"Liberation Serif", serif' font-size="14.2" text-anchor="end" fill="#000" stroke="#000" stroke-width="0.25" >5,2</text>
<text xml:space="preserve" x="0" y="0" transform="translate(886.00,571.80) scale(0.86,1)" font-family='"Liberation Serif", serif' font-size="15.4" text-anchor="middle" fill="#000" stroke="#000" stroke-width="0.25" >13,0</text>
<text xml:space="preserve" x="0" y="0" transform="translate(886.00,592.50) scale(0.88,1)" font-family='"Liberation Serif", serif' font-size="15.0" text-anchor="middle" fill="#000" stroke="#000" stroke-width="0.25" >1,9</text>
<text xml:space="preserve" x="899.2" y="613.5" font-family='"Liberation Serif", serif' font-size="14.5" text-anchor="end" fill="#000" stroke="#000" stroke-width="0.25" >7,5</text>
<text xml:space="preserve" x="0" y="0" transform="translate(929.90,551.00) scale(0.8,1)" font-family='"Liberation Serif", serif' font-size="14.2" text-anchor="end" fill="#000" stroke="#000" stroke-width="0.25" >0,0</text>
<text xml:space="preserve" x="0" y="0" transform="translate(917.00,571.80) scale(0.86,1)" font-family='"Liberation Serif", serif' font-size="15.4" text-anchor="middle" fill="#000" stroke="#000" stroke-width="0.25" >4,3</text>
<text xml:space="preserve" x="0" y="0" transform="translate(917.00,592.50) scale(0.88,1)" font-family='"Liberation Serif", serif' font-size="15.0" text-anchor="middle" fill="#000" stroke="#000" stroke-width="0.25" >-2,3</text>
<text xml:space="preserve" x="930.2" y="613.5" font-family='"Liberation Serif", serif' font-size="14.5" text-anchor="end" fill="#000" stroke="#000" stroke-width="0.25" >1,0</text>
<text xml:space="preserve" x="84.0" y="674.2" font-family='"Liberation Sans", sans-serif' font-size="12.8" text-anchor="middle" fill="#000" stroke="#000" stroke-width="0.25" >S</text>
<text xml:space="preserve" x="115.0" y="674.2" font-family='"Liberation Sans", sans-serif' font-size="12.8" text-anchor="middle" fill="#000" stroke="#000" stroke-width="0.25" >S</text>
<text xml:space="preserve" x="145.5" y="674.2" font-family='"Liberation Sans", sans-serif' font-size="12.8" text-anchor="middle" fill="#000" stroke="#000" stroke-width="0.25" >S</text>
<text xml:space="preserve" x="176.0" y="674.2" font-family='"Liberation Sans", sans-serif' font-size="12.8" text-anchor="middle" fill="#000" stroke="#000" stroke-width="0.25" >S</text>
<text xml:space="preserve" x="84.0" y="693.9" font-family='"Liberation Sans", sans-serif' font-size="12.8" text-anchor="middle" fill="#000" stroke="#000" stroke-width="0.25" textLength="15.2" lengthAdjust="spacingAndGlyphs" >SD</text>
<text xml:space="preserve" x="115.0" y="693.9" font-family='"Liberation Sans", sans-serif' font-size="12.8" text-anchor="middle" fill="#000" stroke="#000" stroke-width="0.25" textLength="15.2" lengthAdjust="spacingAndGlyphs" >SD</text>
<text xml:space="preserve" x="145.5" y="693.9" font-family='"Liberation Sans", sans-serif' font-size="12.8" text-anchor="middle" fill="#000" stroke="#000" stroke-width="0.25" textLength="15.2" lengthAdjust="spacingAndGlyphs" >SD</text>
<text xml:space="preserve" x="176.0" y="693.9" font-family='"Liberation Sans", sans-serif' font-size="12.8" text-anchor="middle" fill="#000" stroke="#000" stroke-width="0.25" textLength="15.2" lengthAdjust="spacingAndGlyphs" >SD</text>
<text xml:space="preserve" x="207.0" y="693.9" font-family='"Liberation Sans", sans-serif' font-size="12.8" text-anchor="middle" fill="#000" stroke="#000" stroke-width="0.25" textLength="15.2" lengthAdjust="spacingAndGlyphs" >SD</text>
<text xml:space="preserve" x="238.0" y="693.9" font-family='"Liberation Sans", sans-serif' font-size="12.8" text-anchor="middle" fill="#000" stroke="#000" stroke-width="0.25" textLength="15.2" lengthAdjust="spacingAndGlyphs" >SD</text>
<text xml:space="preserve" x="917.0" y="693.9" font-family='"Liberation Sans", sans-serif' font-size="12.8" text-anchor="middle" fill="#000" stroke="#000" stroke-width="0.25" textLength="15.2" lengthAdjust="spacingAndGlyphs" >SD</text>
<text x="0" y="0" font-family='"Liberation Sans", sans-serif' font-size="10" font-weight="bold" text-anchor="middle" transform="translate(32.5,679.2) rotate(-90)" textLength="42.5" lengthAdjust="spacingAndGlyphs">Wetter</text>
<text x="0" y="0" font-family='"Liberation Sans", sans-serif' font-size="10" font-weight="bold" text-anchor="middle" transform="translate(32.4,740.3) rotate(-90)" textLength="36.5" lengthAdjust="spacingAndGlyphs">Schnee</text>
<text xml:space="preserve" x="0" y="0" transform="translate(53.00,737.60) scale(0.82,1)" font-family='"Liberation Serif", serif' font-size="15" text-anchor="middle" fill="#000" stroke="#000" stroke-width="0.25" >0</text>
<text xml:space="preserve" x="0" y="0" transform="translate(53.00,757.00) scale(0.82,1)" font-family='"Liberation Serif", serif' font-size="15" text-anchor="middle" fill="#000" stroke="#000" stroke-width="0.25" >0</text>
<text xml:space="preserve" x="0" y="0" transform="translate(84.00,737.60) scale(0.82,1)" font-family='"Liberation Serif", serif' font-size="15" text-anchor="middle" fill="#000" stroke="#000" stroke-width="0.25" >4</text>
<text xml:space="preserve" x="0" y="0" transform="translate(84.00,757.00) scale(0.82,1)" font-family='"Liberation Serif", serif' font-size="15" text-anchor="middle" fill="#000" stroke="#000" stroke-width="0.25" >4</text>
<text xml:space="preserve" x="0" y="0" transform="translate(115.00,737.60) scale(0.82,1)" font-family='"Liberation Serif", serif' font-size="15" text-anchor="middle" fill="#000" stroke="#000" stroke-width="0.25" >6</text>
<text xml:space="preserve" x="0" y="0" transform="translate(115.00,757.00) scale(0.82,1)" font-family='"Liberation Serif", serif' font-size="15" text-anchor="middle" fill="#000" stroke="#000" stroke-width="0.25" >3</text>
<text xml:space="preserve" x="0" y="0" transform="translate(145.50,737.60) scale(0.82,1)" font-family='"Liberation Serif", serif' font-size="15" text-anchor="middle" fill="#000" stroke="#000" stroke-width="0.25" >8</text>
<text xml:space="preserve" x="0" y="0" transform="translate(145.50,757.00) scale(0.82,1)" font-family='"Liberation Serif", serif' font-size="15" text-anchor="middle" fill="#000" stroke="#000" stroke-width="0.25" >3</text>
<text xml:space="preserve" x="0" y="0" transform="translate(176.00,737.60) scale(0.82,1)" font-family='"Liberation Serif", serif' font-size="15" text-anchor="middle" fill="#000" stroke="#000" stroke-width="0.25" >15</text>
<text xml:space="preserve" x="0" y="0" transform="translate(176.00,757.00) scale(0.82,1)" font-family='"Liberation Serif", serif' font-size="15" text-anchor="middle" fill="#000" stroke="#000" stroke-width="0.25" >7</text>
<text xml:space="preserve" x="0" y="0" transform="translate(207.00,737.60) scale(0.82,1)" font-family='"Liberation Serif", serif' font-size="15" text-anchor="middle" fill="#000" stroke="#000" stroke-width="0.25" >5</text>
<text xml:space="preserve" x="0" y="0" transform="translate(207.00,757.00) scale(0.82,1)" font-family='"Liberation Serif", serif' font-size="15" text-anchor="middle" fill="#000" stroke="#000" stroke-width="0.25" >0</text>
<text xml:space="preserve" x="0" y="0" transform="translate(238.00,737.60) scale(0.82,1)" font-family='"Liberation Serif", serif' font-size="15" text-anchor="middle" fill="#000" stroke="#000" stroke-width="0.25" >3</text>
<text xml:space="preserve" x="0" y="0" transform="translate(238.00,757.00) scale(0.82,1)" font-family='"Liberation Serif", serif' font-size="15" text-anchor="middle" fill="#000" stroke="#000" stroke-width="0.25" >0</text>
<text xml:space="preserve" x="0" y="0" transform="translate(269.00,737.60) scale(0.82,1)" font-family='"Liberation Serif", serif' font-size="15" text-anchor="middle" fill="#000" stroke="#000" stroke-width="0.25" >0</text>
<text xml:space="preserve" x="0" y="0" transform="translate(269.00,757.00) scale(0.82,1)" font-family='"Liberation Serif", serif' font-size="15" text-anchor="middle" fill="#000" stroke="#000" stroke-width="0.25" >0</text>
<text xml:space="preserve" x="0" y="0" transform="translate(300.00,737.60) scale(0.82,1)" font-family='"Liberation Serif", serif' font-size="15" text-anchor="middle" fill="#000" stroke="#000" stroke-width="0.25" >0</text>
<text xml:space="preserve" x="0" y="0" transform="translate(300.00,757.00) scale(0.82,1)" font-family='"Liberation Serif", serif' font-size="15" text-anchor="middle" fill="#000" stroke="#000" stroke-width="0.25" >0</text>
<text xml:space="preserve" x="0" y="0" transform="translate(331.00,737.60) scale(0.82,1)" font-family='"Liberation Serif", serif' font-size="15" text-anchor="middle" fill="#000" stroke="#000" stroke-width="0.25" >0</text>
<text xml:space="preserve" x="0" y="0" transform="translate(331.00,757.00) scale(0.82,1)" font-family='"Liberation Serif", serif' font-size="15" text-anchor="middle" fill="#000" stroke="#000" stroke-width="0.25" >0</text>
<text xml:space="preserve" x="0" y="0" transform="translate(362.00,737.60) scale(0.82,1)" font-family='"Liberation Serif", serif' font-size="15" text-anchor="middle" fill="#000" stroke="#000" stroke-width="0.25" >0</text>
<text xml:space="preserve" x="0" y="0" transform="translate(362.00,757.00) scale(0.82,1)" font-family='"Liberation Serif", serif' font-size="15" text-anchor="middle" fill="#000" stroke="#000" stroke-width="0.25" >0</text>
<text xml:space="preserve" x="0" y="0" transform="translate(392.50,737.60) scale(0.82,1)" font-family='"Liberation Serif", serif' font-size="15" text-anchor="middle" fill="#000" stroke="#000" stroke-width="0.25" >0</text>
<text xml:space="preserve" x="0" y="0" transform="translate(392.50,757.00) scale(0.82,1)" font-family='"Liberation Serif", serif' font-size="15" text-anchor="middle" fill="#000" stroke="#000" stroke-width="0.25" >0</text>
<text xml:space="preserve" x="0" y="0" transform="translate(423.00,737.60) scale(0.82,1)" font-family='"Liberation Serif", serif' font-size="15" text-anchor="middle" fill="#000" stroke="#000" stroke-width="0.25" >0</text>
<text xml:space="preserve" x="0" y="0" transform="translate(423.00,757.00) scale(0.82,1)" font-family='"Liberation Serif", serif' font-size="15" text-anchor="middle" fill="#000" stroke="#000" stroke-width="0.25" >0</text>
<text xml:space="preserve" x="0" y="0" transform="translate(454.00,737.60) scale(0.82,1)" font-family='"Liberation Serif", serif' font-size="15" text-anchor="middle" fill="#000" stroke="#000" stroke-width="0.25" >0</text>
<text xml:space="preserve" x="0" y="0" transform="translate(454.00,757.00) scale(0.82,1)" font-family='"Liberation Serif", serif' font-size="15" text-anchor="middle" fill="#000" stroke="#000" stroke-width="0.25" >0</text>
<text xml:space="preserve" x="0" y="0" transform="translate(485.00,737.60) scale(0.82,1)" font-family='"Liberation Serif", serif' font-size="15" text-anchor="middle" fill="#000" stroke="#000" stroke-width="0.25" >0</text>
<text xml:space="preserve" x="0" y="0" transform="translate(485.00,757.00) scale(0.82,1)" font-family='"Liberation Serif", serif' font-size="15" text-anchor="middle" fill="#000" stroke="#000" stroke-width="0.25" >0</text>
<text xml:space="preserve" x="0" y="0" transform="translate(516.00,737.60) scale(0.82,1)" font-family='"Liberation Serif", serif' font-size="15" text-anchor="middle" fill="#000" stroke="#000" stroke-width="0.25" >0</text>
<text xml:space="preserve" x="0" y="0" transform="translate(516.00,757.00) scale(0.82,1)" font-family='"Liberation Serif", serif' font-size="15" text-anchor="middle" fill="#000" stroke="#000" stroke-width="0.25" >0</text>
<text xml:space="preserve" x="0" y="0" transform="translate(547.00,737.60) scale(0.82,1)" font-family='"Liberation Serif", serif' font-size="15" text-anchor="middle" fill="#000" stroke="#000" stroke-width="0.25" >0</text>
<text xml:space="preserve" x="0" y="0" transform="translate(547.00,757.00) scale(0.82,1)" font-family='"Liberation Serif", serif' font-size="15" text-anchor="middle" fill="#000" stroke="#000" stroke-width="0.25" >0</text>
<text xml:space="preserve" x="0" y="0" transform="translate(578.00,737.60) scale(0.82,1)" font-family='"Liberation Serif", serif' font-size="15" text-anchor="middle" fill="#000" stroke="#000" stroke-width="0.25" >0</text>
<text xml:space="preserve" x="0" y="0" transform="translate(578.00,757.00) scale(0.82,1)" font-family='"Liberation Serif", serif' font-size="15" text-anchor="middle" fill="#000" stroke="#000" stroke-width="0.25" >0</text>
<text xml:space="preserve" x="0" y="0" transform="translate(609.00,737.60) scale(0.82,1)" font-family='"Liberation Serif", serif' font-size="15" text-anchor="middle" fill="#000" stroke="#000" stroke-width="0.25" >0</text>
<text xml:space="preserve" x="0" y="0" transform="translate(609.00,757.00) scale(0.82,1)" font-family='"Liberation Serif", serif' font-size="15" text-anchor="middle" fill="#000" stroke="#000" stroke-width="0.25" >0</text>
<text xml:space="preserve" x="0" y="0" transform="translate(639.50,737.60) scale(0.82,1)" font-family='"Liberation Serif", serif' font-size="15" text-anchor="middle" fill="#000" stroke="#000" stroke-width="0.25" >0</text>
<text xml:space="preserve" x="0" y="0" transform="translate(639.50,757.00) scale(0.82,1)" font-family='"Liberation Serif", serif' font-size="15" text-anchor="middle" fill="#000" stroke="#000" stroke-width="0.25" >0</text>
<text xml:space="preserve" x="0" y="0" transform="translate(670.00,737.60) scale(0.82,1)" font-family='"Liberation Serif", serif' font-size="15" text-anchor="middle" fill="#000" stroke="#000" stroke-width="0.25" >0</text>
<text xml:space="preserve" x="0" y="0" transform="translate(670.00,757.00) scale(0.82,1)" font-family='"Liberation Serif", serif' font-size="15" text-anchor="middle" fill="#000" stroke="#000" stroke-width="0.25" >0</text>
<text xml:space="preserve" x="0" y="0" transform="translate(701.00,737.60) scale(0.82,1)" font-family='"Liberation Serif", serif' font-size="15" text-anchor="middle" fill="#000" stroke="#000" stroke-width="0.25" >0</text>
<text xml:space="preserve" x="0" y="0" transform="translate(701.00,757.00) scale(0.82,1)" font-family='"Liberation Serif", serif' font-size="15" text-anchor="middle" fill="#000" stroke="#000" stroke-width="0.25" >0</text>
<text xml:space="preserve" x="0" y="0" transform="translate(732.00,737.60) scale(0.82,1)" font-family='"Liberation Serif", serif' font-size="15" text-anchor="middle" fill="#000" stroke="#000" stroke-width="0.25" >0</text>
<text xml:space="preserve" x="0" y="0" transform="translate(732.00,757.00) scale(0.82,1)" font-family='"Liberation Serif", serif' font-size="15" text-anchor="middle" fill="#000" stroke="#000" stroke-width="0.25" >0</text>
<text xml:space="preserve" x="0" y="0" transform="translate(763.00,737.60) scale(0.82,1)" font-family='"Liberation Serif", serif' font-size="15" text-anchor="middle" fill="#000" stroke="#000" stroke-width="0.25" >0</text>
<text xml:space="preserve" x="0" y="0" transform="translate(763.00,757.00) scale(0.82,1)" font-family='"Liberation Serif", serif' font-size="15" text-anchor="middle" fill="#000" stroke="#000" stroke-width="0.25" >0</text>
<text xml:space="preserve" x="0" y="0" transform="translate(794.00,737.60) scale(0.82,1)" font-family='"Liberation Serif", serif' font-size="15" text-anchor="middle" fill="#000" stroke="#000" stroke-width="0.25" >0</text>
<text xml:space="preserve" x="0" y="0" transform="translate(794.00,757.00) scale(0.82,1)" font-family='"Liberation Serif", serif' font-size="15" text-anchor="middle" fill="#000" stroke="#000" stroke-width="0.25" >0</text>
<text xml:space="preserve" x="0" y="0" transform="translate(825.00,737.60) scale(0.82,1)" font-family='"Liberation Serif", serif' font-size="15" text-anchor="middle" fill="#000" stroke="#000" stroke-width="0.25" >0</text>
<text xml:space="preserve" x="0" y="0" transform="translate(825.00,757.00) scale(0.82,1)" font-family='"Liberation Serif", serif' font-size="15" text-anchor="middle" fill="#000" stroke="#000" stroke-width="0.25" >0</text>
<text xml:space="preserve" x="0" y="0" transform="translate(855.50,737.60) scale(0.82,1)" font-family='"Liberation Serif", serif' font-size="15" text-anchor="middle" fill="#000" stroke="#000" stroke-width="0.25" >0</text>
<text xml:space="preserve" x="0" y="0" transform="translate(855.50,757.00) scale(0.82,1)" font-family='"Liberation Serif", serif' font-size="15" text-anchor="middle" fill="#000" stroke="#000" stroke-width="0.25" >0</text>
<text xml:space="preserve" x="0" y="0" transform="translate(886.00,737.60) scale(0.82,1)" font-family='"Liberation Serif", serif' font-size="15" text-anchor="middle" fill="#000" stroke="#000" stroke-width="0.25" >0</text>
<text xml:space="preserve" x="0" y="0" transform="translate(886.00,757.00) scale(0.82,1)" font-family='"Liberation Serif", serif' font-size="15" text-anchor="middle" fill="#000" stroke="#000" stroke-width="0.25" >0</text>
<text xml:space="preserve" x="0" y="0" transform="translate(917.00,737.60) scale(0.82,1)" font-family='"Liberation Serif", serif' font-size="15" text-anchor="middle" fill="#000" stroke="#000" stroke-width="0.25" >8,0</text>
<text xml:space="preserve" x="0" y="0" transform="translate(917.00,757.00) scale(0.82,1)" font-family='"Liberation Serif", serif' font-size="15" text-anchor="middle" fill="#000" stroke="#000" stroke-width="0.25" >0,0</text>
<text xml:space="preserve" x="2.0" y="777.1" font-family='"Liberation Sans", sans-serif' font-size="12.4" text-anchor="start" fill="#4169b3" stroke="#4169b3" stroke-width="0.25" textLength="432.5" lengthAdjust="spacingAndGlyphs" >Niederschlagsdaten DWD-Station Glashütten-Temperatur -  DWD gerechnet</text>
<text xml:space="preserve" x="457.3" y="777.7" font-family='"Liberation Sans", sans-serif' font-size="12.4" text-anchor="start" fill="#000" stroke="#000" stroke-width="0.25" textLength="688.9" lengthAdjust="spacingAndGlyphs" >Datenerfassung:  Standort -  95496  Glashütten, Altenhimmelstr. 37 - Koordinaten:  49° 52' 48' Nord,   11° 27' 04" Ost   440 m ü. NN</text>
</svg>
</body></html>
